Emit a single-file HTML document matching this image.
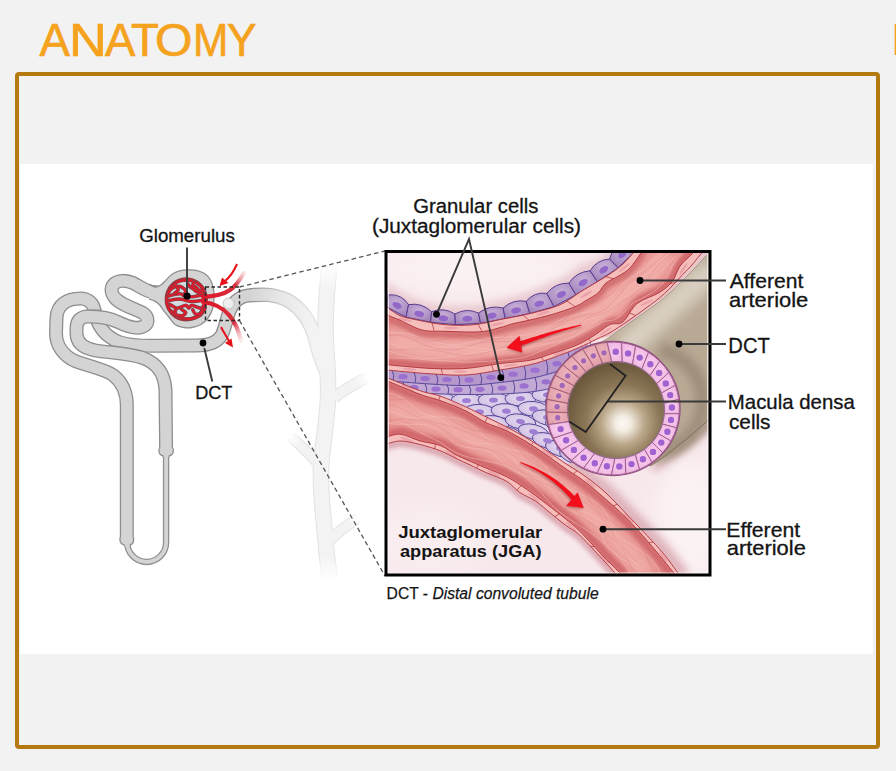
<!DOCTYPE html>
<html><head><meta charset="utf-8"><title>Anatomy</title>
<style>
html,body{margin:0;padding:0;width:896px;height:771px;overflow:hidden;background:#F2F2F2}
svg{position:absolute;left:0;top:0;display:block}
text{font-family:'Liberation Sans', sans-serif}
</style></head><body>
<svg width="896" height="771" viewBox="0 0 896 771">
<rect x="0" y="0" width="896" height="771" fill="#F2F2F2"/>
<g font-size="45.5" fill="#F5A31E" stroke="#F5A31E" stroke-width="0.7"><text transform="translate(39.5,55.9) scale(1.0018,1)">A</text><text transform="translate(69.1,55.9) scale(1.1448,1)">N</text><text transform="translate(105,55.9) scale(1.0018,1)">A</text><text transform="translate(131,55.9) scale(1.0018,1)">T</text><text transform="translate(155.1,55.9) scale(1.0574,1)">O</text><text transform="translate(193.0,55.9) scale(0.9339,1)">M</text><text transform="translate(226.9,55.9) scale(0.9710,1)">Y</text></g>
<rect x="894.6" y="24" width="1.4" height="31" fill="#F5A623"/>
<rect x="17" y="74" width="861" height="673" rx="2" fill="none" stroke="#B57912" stroke-width="4"/>
<rect x="20" y="164" width="853" height="490" fill="#FFFFFF"/>
<defs><mask id="fadeM" maskUnits="userSpaceOnUse" x="200" y="240" width="200" height="360"><rect x="200" y="240" width="200" height="360" fill="#fff"/><linearGradient id="fT" x1="0" y1="262" x2="0" y2="292" gradientUnits="userSpaceOnUse"><stop offset="0" stop-color="#000"/><stop offset="1" stop-color="#000" stop-opacity="0"/></linearGradient><rect x="300" y="240" width="60" height="52" fill="url(#fT)"/><linearGradient id="fB" x1="0" y1="582" x2="0" y2="555" gradientUnits="userSpaceOnUse"><stop offset="0" stop-color="#000"/><stop offset="1" stop-color="#000" stop-opacity="0"/></linearGradient><rect x="300" y="555" width="60" height="40" fill="url(#fB)"/><radialGradient id="fR" cx="0.5" cy="0.5" r="0.5"><stop offset="0" stop-color="#000"/><stop offset="1" stop-color="#000" stop-opacity="0"/></radialGradient><circle cx="368" cy="377" r="14" fill="url(#fR)"/><circle cx="289" cy="436" r="14" fill="url(#fR)"/><circle cx="360" cy="517" r="13" fill="url(#fR)"/></mask><linearGradient id="ctO" x1="250" y1="0" x2="312" y2="0" gradientUnits="userSpaceOnUse"><stop offset="0" stop-color="#8E8E8E"/><stop offset="0.45" stop-color="#C8C8C8"/><stop offset="1" stop-color="#E2E2E2"/></linearGradient><linearGradient id="ctF" x1="250" y1="0" x2="312" y2="0" gradientUnits="userSpaceOnUse"><stop offset="0" stop-color="#D4D4D4"/><stop offset="0.45" stop-color="#E6E6E6"/><stop offset="1" stop-color="#F3F3F3"/></linearGradient></defs>
<g mask="url(#fadeM)">
<path d="M329.5,262 C328,285 325,305 325.5,330 C326,355 329,375 328,398 C327,425 322,445 321,470 C320,495 324,520 326,545 C327,560 329,570 330,580" fill="none" stroke="#E2E2E2" stroke-width="16.5"/>
<path d="M334,398 C342,391 351,386 366,378" fill="none" stroke="#E2E2E2" stroke-width="12"/>
<path d="M320,466 C313,458 305,449 291,437" fill="none" stroke="#E2E2E2" stroke-width="11"/>
<path d="M330,540 C338,532 346,526 358,518" fill="none" stroke="#E2E2E2" stroke-width="11.5"/>
<path d="M250,295.3 C260,294.6 272,293 287,300 C302,308 311,322 316,342 C318,352 322,362 326,372" fill="none" stroke="url(#ctO)" stroke-width="14.5"/>
<path d="M329.5,262 C328,285 325,305 325.5,330 C326,355 329,375 328,398 C327,425 322,445 321,470 C320,495 324,520 326,545 C327,560 329,570 330,580" fill="none" stroke="#F3F3F3" stroke-width="14.5"/>
<path d="M334,398 C342,391 351,386 366,378" fill="none" stroke="#F3F3F3" stroke-width="10"/>
<path d="M320,466 C313,458 305,449 291,437" fill="none" stroke="#F3F3F3" stroke-width="9"/>
<path d="M330,540 C338,532 346,526 358,518" fill="none" stroke="#F3F3F3" stroke-width="9.5"/>
<path d="M250,295.3 C260,294.6 272,293 287,300 C302,308 311,322 316,342 C318,352 322,362 326,372" fill="none" stroke="url(#ctF)" stroke-width="12"/>
</g>
<path d="M126.8,539 L126.8,405 C126.8,392 122,382 113,375 C104,369 88,366 75,361 C64,356 56,346 56,333 L56.5,318 C57,305 67,298.5 80.5,298.5 C88,298.5 93,303 94.5,310 C96.5,324 104,336 119,342 C129,345.5 140,346 155,345.8 L197,345.5 C209,345.5 217,342.5 221.5,335.5 C225,329 226.5,319 229.5,311 C233,302.5 239,297.5 246,295.8 C247.5,295.5 249,295.3 251,295.3" fill="none" stroke="#8E8E8E" stroke-width="14" stroke-linecap="butt" stroke-linejoin="round"/><path d="M126.8,539 L126.8,405 C126.8,392 122,382 113,375 C104,369 88,366 75,361 C64,356 56,346 56,333 L56.5,318 C57,305 67,298.5 80.5,298.5 C88,298.5 93,303 94.5,310 C96.5,324 104,336 119,342 C129,345.5 140,346 155,345.8 L197,345.5 C209,345.5 217,342.5 221.5,335.5 C225,329 226.5,319 229.5,311 C233,302.5 239,297.5 246,295.8 C247.5,295.5 249,295.3 251,295.3" fill="none" stroke="#D4D4D4" stroke-width="11.4" stroke-linecap="butt" stroke-linejoin="round"/>
<defs><filter id="nb1" x="-50%" y="-50%" width="200%" height="200%"><feGaussianBlur stdDeviation="1"/></filter></defs>
<path d="M87,309.8 L101.5,310.6" stroke="#8A8A8A" stroke-width="2.6" filter="url(#nb1)" opacity="0.8"/>
<path d="M166,292.5 C160,292.5 156,292.3 151,291.6 C145,290.6 140,286.5 133,283 C126,280 118,280 114,284 C110,288 111,295 117,300 C124,306 136,309 143,313 C148,316 149,322 145,325.5 C139,330 128,327 118,322 C110,318 100,316.5 88,316.5 C80,316.5 76.5,321 76.5,329 L76.5,333 C76.5,342.5 83,348 95,350.3 C110,352.8 128,353 143,358 C156,363 164.5,372 165.5,390 L166.1,449.5" fill="none" stroke="#8E8E8E" stroke-width="14" stroke-linecap="butt" stroke-linejoin="round"/><path d="M166,292.5 C160,292.5 156,292.3 151,291.6 C145,290.6 140,286.5 133,283 C126,280 118,280 114,284 C110,288 111,295 117,300 C124,306 136,309 143,313 C148,316 149,322 145,325.5 C139,330 128,327 118,322 C110,318 100,316.5 88,316.5 C80,316.5 76.5,321 76.5,329 L76.5,333 C76.5,342.5 83,348 95,350.3 C110,352.8 128,353 143,358 C156,363 164.5,372 165.5,390 L166.1,449.5" fill="none" stroke="#D4D4D4" stroke-width="11.4" stroke-linecap="butt" stroke-linejoin="round"/>
<path d="M149.0,284.3 C150.1,284.8 153.6,286.9 155.6,287.0 C157.6,287.1 159.3,286.1 161.0,285.0 C162.7,283.9 164.0,282.1 165.7,280.4 C167.4,278.7 169.3,276.4 171.1,275.0 C172.9,273.6 174.6,272.7 176.6,271.9 C178.6,271.1 180.8,270.5 183.0,270.2 C185.2,269.9 187.5,269.7 190.0,269.8 C192.5,269.9 195.5,270.1 198.0,270.8 C200.5,271.5 202.9,272.3 205.0,273.8 C207.1,275.3 209.1,277.6 210.5,280.0 C211.9,282.4 212.7,285.0 213.3,288.0 C213.9,291.0 214.1,294.5 214.0,298.0 C213.9,301.5 213.5,305.7 212.5,309.0 C211.5,312.3 209.9,315.4 208.0,318.0 C206.1,320.6 203.7,322.9 201.0,324.5 C198.3,326.1 195.0,327.0 192.0,327.5 C189.0,328.0 185.8,327.8 183.0,327.3 C180.2,326.8 177.4,326.3 175.0,324.5 C172.6,322.7 170.4,318.9 168.5,316.5 C166.6,314.1 164.7,311.9 163.3,310.1 C161.9,308.3 161.5,306.9 160.2,305.5 C158.9,304.1 157.5,302.7 155.6,301.6 C153.7,300.5 150.1,299.3 149.0,298.9 Z" fill="#D4D4D4"/>
<path d="M149.0,284.3 C150.1,284.8 153.6,286.9 155.6,287.0 C157.6,287.1 159.3,286.1 161.0,285.0 C162.7,283.9 164.0,282.1 165.7,280.4 C167.4,278.7 169.3,276.4 171.1,275.0 C172.9,273.6 174.6,272.7 176.6,271.9 C178.6,271.1 180.8,270.5 183.0,270.2 C185.2,269.9 187.5,269.7 190.0,269.8 C192.5,269.9 195.5,270.1 198.0,270.8 C200.5,271.5 202.9,272.3 205.0,273.8 C207.1,275.3 209.1,277.6 210.5,280.0 C211.9,282.4 212.7,285.0 213.3,288.0 C213.9,291.0 214.1,294.5 214.0,298.0 C213.9,301.5 213.5,305.7 212.5,309.0 C211.5,312.3 209.9,315.4 208.0,318.0 C206.1,320.6 203.7,322.9 201.0,324.5 C198.3,326.1 195.0,327.0 192.0,327.5 C189.0,328.0 185.8,327.8 183.0,327.3 C180.2,326.8 177.4,326.3 175.0,324.5 C172.6,322.7 170.4,318.9 168.5,316.5 C166.6,314.1 164.7,311.9 163.3,310.1 C161.9,308.3 161.5,306.9 160.2,305.5 C158.9,304.1 157.5,302.7 155.6,301.6 C153.7,300.5 150.1,299.3 149.0,298.9" fill="none" stroke="#8E8E8E" stroke-width="1.3"/>
<path d="M166.1,455 L166.1,542.5 A19.45,19.45 0 0 1 127.2,542.5 L127.2,544" fill="none" stroke="#8E8E8E" stroke-width="6.4" stroke-linecap="butt" stroke-linejoin="round"/><path d="M166.1,455 L166.1,542.5 A19.45,19.45 0 0 1 127.2,542.5 L127.2,544" fill="none" stroke="#D4D4D4" stroke-width="3.9" stroke-linecap="butt" stroke-linejoin="round"/>
<path d="M159.0,448.5 L159.0,450.5 Q159.0,455.1 162.9,455.7 L162.9,457.0 L169.3,457.0 L169.3,455.7 Q173.3,455.1 173.3,450.5 L173.3,448.5 Z" fill="#D4D4D4"/>
<path d="M159.0,448.5 L159.0,450.5 Q159.0,455.1 162.9,455.7 L162.9,457.0 M173.3,448.5 L173.3,450.5 Q173.3,455.1 169.3,455.7 L169.3,457.0" stroke="#8E8E8E" stroke-width="1.3" fill="none"/>
<path d="M120.0,537.5 L120.0,539.5 Q120.0,544.1 124.0,544.7 L124.0,546.0 L130.4,546.0 L130.4,544.7 Q133.6,544.1 133.6,539.5 L133.6,537.5 Z" fill="#D4D4D4"/>
<path d="M120.0,537.5 L120.0,539.5 Q120.0,544.1 124.0,544.7 L124.0,546.0 M133.6,537.5 L133.6,539.5 Q133.6,544.1 130.4,544.7 L130.4,546.0" stroke="#8E8E8E" stroke-width="1.3" fill="none"/>
<g transform="translate(186.2,299.3) scale(1,0.97)">
<ellipse cx="0" cy="0" rx="19.6" ry="20.8" fill="#D2DCE0"/>
<ellipse cx="0" cy="0" rx="19.6" ry="20.8" fill="none" stroke="#74484E" stroke-width="4"/>
<ellipse cx="0" cy="0" rx="19.6" ry="20.8" fill="none" stroke="#DE1B2B" stroke-width="2.6"/>
<path d="M-16.1,-11.8 C-15.2,-12.7 -12.8,-16.0 -10.6,-17.3 C-8.4,-18.6 -5.8,-19.4 -2.9,-19.6 C-0.0,-19.9 3.6,-19.7 6.5,-18.8 C9.4,-17.9 12.4,-16.0 14.3,-14.2 C16.2,-12.4 17.6,-9.0 18.2,-8.0" fill="none" stroke="#74484E" stroke-width="3.6" stroke-linecap="round" stroke-linejoin="round"/>
<path d="M-16.1,-11.8 C-15.2,-12.7 -12.8,-16.0 -10.6,-17.3 C-8.4,-18.6 -5.8,-19.4 -2.9,-19.6 C-0.0,-19.9 3.6,-19.7 6.5,-18.8 C9.4,-17.9 12.4,-16.0 14.3,-14.2 C16.2,-12.4 17.6,-9.0 18.2,-8.0" fill="none" stroke="#DE1B2B" stroke-width="2.4" stroke-linecap="round" stroke-linejoin="round"/>
<path d="M-18.4,-5.6 C-17.8,-6.5 -16.4,-9.7 -14.5,-11.0 C-12.6,-12.3 -9.0,-13.8 -6.7,-13.4 C-4.4,-13.0 -1.1,-10.3 -0.5,-8.7 C0.1,-7.1 -2.6,-4.8 -3.0,-4.0" fill="none" stroke="#74484E" stroke-width="3.6" stroke-linecap="round" stroke-linejoin="round"/>
<path d="M-18.4,-5.6 C-17.8,-6.5 -16.4,-9.7 -14.5,-11.0 C-12.6,-12.3 -9.0,-13.8 -6.7,-13.4 C-4.4,-13.0 -1.1,-10.3 -0.5,-8.7 C0.1,-7.1 -2.6,-4.8 -3.0,-4.0" fill="none" stroke="#DE1B2B" stroke-width="2.4" stroke-linecap="round" stroke-linejoin="round"/>
<path d="M1.8,-15.7 C2.3,-15.0 3.7,-12.2 4.9,-11.8 C6.1,-11.4 7.5,-13.8 8.8,-13.4 C10.1,-13.0 11.3,-10.4 12.7,-9.5 C14.1,-8.6 16.6,-8.2 17.4,-8.0" fill="none" stroke="#74484E" stroke-width="3.6" stroke-linecap="round" stroke-linejoin="round"/>
<path d="M1.8,-15.7 C2.3,-15.0 3.7,-12.2 4.9,-11.8 C6.1,-11.4 7.5,-13.8 8.8,-13.4 C10.1,-13.0 11.3,-10.4 12.7,-9.5 C14.1,-8.6 16.6,-8.2 17.4,-8.0" fill="none" stroke="#DE1B2B" stroke-width="2.4" stroke-linecap="round" stroke-linejoin="round"/>
<path d="M-18.4,-3.3 C-16.4,-3.7 -10.6,-5.7 -6.7,-5.6 C-2.8,-5.5 0.9,-2.6 4.9,-2.5 C8.9,-2.4 14.8,-4.7 17.4,-4.8 C20.0,-4.9 20.0,-3.5 20.5,-3.3" fill="none" stroke="#74484E" stroke-width="3.6" stroke-linecap="round" stroke-linejoin="round"/>
<path d="M-18.4,-3.3 C-16.4,-3.7 -10.6,-5.7 -6.7,-5.6 C-2.8,-5.5 0.9,-2.6 4.9,-2.5 C8.9,-2.4 14.8,-4.7 17.4,-4.8 C20.0,-4.9 20.0,-3.5 20.5,-3.3" fill="none" stroke="#DE1B2B" stroke-width="2.4" stroke-linecap="round" stroke-linejoin="round"/>
<path d="M-17.6,1.4 C-15.8,1.1 -10.4,-0.3 -6.7,-0.2 C-3.0,-0.1 0.5,2.1 4.9,2.2 C9.3,2.3 17.2,0.9 19.7,0.6" fill="none" stroke="#74484E" stroke-width="3.6" stroke-linecap="round" stroke-linejoin="round"/>
<path d="M-17.6,1.4 C-15.8,1.1 -10.4,-0.3 -6.7,-0.2 C-3.0,-0.1 0.5,2.1 4.9,2.2 C9.3,2.3 17.2,0.9 19.7,0.6" fill="none" stroke="#DE1B2B" stroke-width="2.4" stroke-linecap="round" stroke-linejoin="round"/>
<path d="M-16.1,5.3 C-14.9,5.9 -11.7,9.1 -9.1,9.2 C-6.5,9.3 -2.5,6.1 -0.5,6.1 C1.4,6.1 1.6,9.2 2.6,9.2 C3.6,9.2 3.8,6.1 5.7,6.1 C7.7,6.1 12.2,9.3 14.3,9.2 C16.4,9.1 17.6,5.9 18.2,5.3" fill="none" stroke="#74484E" stroke-width="3.6" stroke-linecap="round" stroke-linejoin="round"/>
<path d="M-16.1,5.3 C-14.9,5.9 -11.7,9.1 -9.1,9.2 C-6.5,9.3 -2.5,6.1 -0.5,6.1 C1.4,6.1 1.6,9.2 2.6,9.2 C3.6,9.2 3.8,6.1 5.7,6.1 C7.7,6.1 12.2,9.3 14.3,9.2 C16.4,9.1 17.6,5.9 18.2,5.3" fill="none" stroke="#DE1B2B" stroke-width="2.4" stroke-linecap="round" stroke-linejoin="round"/>
<path d="M-14.5,12.3 C-13.2,13.3 -9.9,17.2 -6.7,18.5 C-3.5,19.8 1.4,20.5 4.9,20.1 C8.4,19.7 12.0,18.0 14.3,16.2 C16.6,14.4 18.1,10.4 18.9,9.2" fill="none" stroke="#74484E" stroke-width="3.6" stroke-linecap="round" stroke-linejoin="round"/>
<path d="M-14.5,12.3 C-13.2,13.3 -9.9,17.2 -6.7,18.5 C-3.5,19.8 1.4,20.5 4.9,20.1 C8.4,19.7 12.0,18.0 14.3,16.2 C16.6,14.4 18.1,10.4 18.9,9.2" fill="none" stroke="#DE1B2B" stroke-width="2.4" stroke-linecap="round" stroke-linejoin="round"/>
<path d="M-10.6,10.7 C-10.6,11.5 -11.6,14.3 -10.6,15.4 C-9.6,16.4 -6.1,17.3 -4.4,17.0 C-2.7,16.7 -0.5,14.9 -0.5,13.8 C-0.5,12.8 -3.8,11.2 -4.4,10.7" fill="none" stroke="#74484E" stroke-width="3.6" stroke-linecap="round" stroke-linejoin="round"/>
<path d="M-10.6,10.7 C-10.6,11.5 -11.6,14.3 -10.6,15.4 C-9.6,16.4 -6.1,17.3 -4.4,17.0 C-2.7,16.7 -0.5,14.9 -0.5,13.8 C-0.5,12.8 -3.8,11.2 -4.4,10.7" fill="none" stroke="#DE1B2B" stroke-width="2.4" stroke-linecap="round" stroke-linejoin="round"/>
<path d="M6.5,10.7 C7.0,11.5 8.0,14.9 9.6,15.4 C11.2,15.9 14.8,14.8 15.8,13.8 C16.8,12.8 15.8,10.0 15.8,9.2" fill="none" stroke="#74484E" stroke-width="3.6" stroke-linecap="round" stroke-linejoin="round"/>
<path d="M6.5,10.7 C7.0,11.5 8.0,14.9 9.6,15.4 C11.2,15.9 14.8,14.8 15.8,13.8 C16.8,12.8 15.8,10.0 15.8,9.2" fill="none" stroke="#DE1B2B" stroke-width="2.4" stroke-linecap="round" stroke-linejoin="round"/>
<path d="M-12.0,-16.0 C-11.3,-15.0 -8.0,-11.7 -8.0,-10.0 C-8.0,-8.3 -11.3,-6.7 -12.0,-6.0" fill="none" stroke="#74484E" stroke-width="3.6" stroke-linecap="round" stroke-linejoin="round"/>
<path d="M-12.0,-16.0 C-11.3,-15.0 -8.0,-11.7 -8.0,-10.0 C-8.0,-8.3 -11.3,-6.7 -12.0,-6.0" fill="none" stroke="#DE1B2B" stroke-width="2.4" stroke-linecap="round" stroke-linejoin="round"/>
<path d="M8.0,-18.0 C7.7,-17.2 5.7,-14.7 6.0,-13.0 C6.3,-11.3 8.3,-9.2 10.0,-8.0 C11.7,-6.8 15.0,-6.3 16.0,-6.0" fill="none" stroke="#74484E" stroke-width="3.6" stroke-linecap="round" stroke-linejoin="round"/>
<path d="M8.0,-18.0 C7.7,-17.2 5.7,-14.7 6.0,-13.0 C6.3,-11.3 8.3,-9.2 10.0,-8.0 C11.7,-6.8 15.0,-6.3 16.0,-6.0" fill="none" stroke="#DE1B2B" stroke-width="2.4" stroke-linecap="round" stroke-linejoin="round"/>
</g>
<defs><linearGradient id="affG" x1="205" y1="296" x2="244" y2="268" gradientUnits="userSpaceOnUse"><stop offset="0" stop-color="#DD1A2A"/><stop offset="0.65" stop-color="#D8303F"/><stop offset="1" stop-color="#F6C8CC" stop-opacity="0.3"/></linearGradient><linearGradient id="effG" x1="205" y1="302" x2="241" y2="342" gradientUnits="userSpaceOnUse"><stop offset="0" stop-color="#DD1A2A"/><stop offset="0.65" stop-color="#D8303F"/><stop offset="1" stop-color="#F6C8CC" stop-opacity="0.3"/></linearGradient></defs>
<path d="M203,297 C212,296.5 222,295.5 230,290 C236,286 240,280 244,273" fill="none" stroke="url(#affG)" stroke-width="4.2" stroke-linecap="round"/>
<path d="M203,302 C212,303 222,307 229,315 C235,322 239,331 241,341" fill="none" stroke="url(#effG)" stroke-width="4.2" stroke-linecap="round"/>
<circle cx="228.5" cy="303.5" r="5.5" fill="#EEEEEE" stroke="#B8B8B8" stroke-width="0.8"/>
<path d="M237,264 C234,271 230,277 225,281" fill="none" stroke="#E8101A" stroke-width="2"/>
<path d="M219.5,286 L222,277.5 L228.5,283 Z" fill="#E8101A"/>
<path d="M221,327 C224,333 227,337 229,341" fill="none" stroke="#E8101A" stroke-width="2"/>
<path d="M233,347.5 L225,343 L231.5,338.5 Z" fill="#E8101A"/>
<rect x="205.5" y="287" width="34" height="33.5" fill="none" stroke="#2a2a2a" stroke-width="1.4" stroke-dasharray="3.5,2.5"/>
<path d="M239.5,287 L385,251 M239.5,320.5 L385,576" fill="none" stroke="#555" stroke-width="1.3" stroke-dasharray="4.5,3.2"/>
<defs>
<clipPath id="ic"><rect x="387.5" y="253" width="321" height="321"/></clipPath>
<filter id="b1" x="-20%" y="-20%" width="140%" height="140%"><feGaussianBlur stdDeviation="0.8"/></filter>
<filter id="b2" x="-20%" y="-20%" width="140%" height="140%"><feGaussianBlur stdDeviation="2"/></filter>
<filter id="b4" x="-30%" y="-30%" width="160%" height="160%"><feGaussianBlur stdDeviation="4"/></filter>
<filter id="b7" x="-30%" y="-30%" width="160%" height="160%"><feGaussianBlur stdDeviation="7"/></filter>
<filter id="b10" x="-50%" y="-50%" width="200%" height="200%"><feGaussianBlur stdDeviation="10"/></filter>
<radialGradient id="cellP" cx="0.5" cy="0.35" r="0.7"><stop offset="0" stop-color="#C8B0D7"/><stop offset="0.6" stop-color="#B195C6"/><stop offset="1" stop-color="#9E81B6"/></radialGradient>
<radialGradient id="cellM" cx="0.5" cy="0.5" r="0.6"><stop offset="0" stop-color="#F9D0EE"/><stop offset="1" stop-color="#EFB3E0"/></radialGradient>
<radialGradient id="cellS" cx="0.5" cy="0.4" r="0.7"><stop offset="0" stop-color="#EDB4BC"/><stop offset="1" stop-color="#DE9AA6"/></radialGradient>
<radialGradient id="lum" cx="623" cy="421" r="58" fx="623" fy="424" gradientUnits="userSpaceOnUse"><stop offset="0" stop-color="#FDFBF6"/><stop offset="0.14" stop-color="#F1EADF"/><stop offset="0.38" stop-color="#B9A587"/><stop offset="0.65" stop-color="#8A7556"/><stop offset="1" stop-color="#6C583C"/></radialGradient>
<radialGradient id="cellL" cx="0.5" cy="0.45" r="0.6"><stop offset="0" stop-color="#E6DCF0"/><stop offset="1" stop-color="#CEBDE2"/></radialGradient>
</defs>
<g clip-path="url(#ic)">
<rect x="386" y="251" width="324" height="325" fill="#F7E8EB"/>
<ellipse cx="475" cy="268" rx="100" ry="26" fill="#FAF1F3" filter="url(#b10)"/>
<path d="M384.0,286.5 C385.0,287.5 386.8,290.3 390.0,292.5 C393.2,294.7 398.3,297.4 403.4,299.9 C408.5,302.3 414.0,305.3 420.8,307.2 C427.6,309.1 435.3,310.8 444.0,311.5 C452.7,312.2 464.3,312.2 473.0,311.5 C481.7,310.8 488.6,308.9 496.3,307.2 C504.1,305.5 511.8,303.8 519.5,301.4 C527.2,299.0 535.0,295.8 542.7,292.6 C550.4,289.5 558.4,286.5 565.9,282.5 C573.4,278.5 582.1,271.6 587.8,268.8 C593.5,266.1 596.4,268.1 600.0,266.0 C603.6,263.9 606.8,258.4 609.7,256.3 C612.6,254.2 613.6,254.1 617.5,253.5 C621.4,252.9 628.4,253.1 633.0,252.5 C637.6,251.9 643.0,250.4 645.0,250.0" fill="none" stroke="#E6C3CA" stroke-width="10" filter="url(#b4)"/>
<ellipse cx="430" cy="540" rx="60" ry="35" fill="#F9EDEF" filter="url(#b10)"/>
<path d="M384.0,445.0 C386.7,444.3 394.0,441.1 400.0,441.0 C406.0,440.9 413.3,442.9 420.0,444.5 C426.7,446.1 434.2,448.5 440.0,450.7 C445.8,452.9 450.7,455.8 455.0,457.9 C459.3,459.9 460.8,460.6 466.0,463.0 C471.2,465.4 479.3,469.6 486.0,472.6 C492.7,475.6 500.3,477.7 506.0,481.0 C511.7,484.3 515.1,489.2 520.0,492.6 C524.9,496.0 530.4,497.6 535.6,501.1 C540.8,504.6 545.8,509.5 551.0,513.6 C556.2,517.8 561.9,522.4 566.7,526.0 C571.5,529.6 574.0,529.9 580.0,535.5 C586.0,541.1 597.0,553.4 602.8,559.6 C608.6,565.9 612.4,570.1 614.8,573.0 C617.2,575.9 616.6,576.3 617.0,577.0" fill="none" stroke="#DCA8B2" stroke-width="7" filter="url(#b2)" transform="translate(0,2.5)"/>
<ellipse cx="690" cy="520" rx="35" ry="60" fill="#FBF2F3" filter="url(#b10)"/>
<path d="M384.0,376.5 C390.0,378.9 410.7,387.4 420.0,390.7 C429.3,393.9 432.3,393.3 440.0,396.0 C447.7,398.7 458.3,403.5 466.0,407.0 C473.7,410.5 479.3,413.6 486.0,416.9 C492.7,420.2 499.3,423.2 506.0,426.6 C512.7,430.1 519.3,433.7 526.0,437.6 C532.7,441.5 539.3,445.8 546.0,450.2 C552.7,454.6 559.3,459.4 566.0,463.8 C572.7,468.2 579.3,471.9 586.0,476.8 C592.7,481.7 599.2,486.8 606.0,493.0 C612.8,499.2 619.7,506.9 626.5,514.0 C633.3,521.1 640.9,529.0 647.0,535.5 C653.1,542.0 657.8,546.8 663.0,553.0 C668.2,559.2 675.0,569.0 678.0,573.0 C681.0,577.0 680.5,576.3 681.0,577.0" fill="none" stroke="#DDAEB7" stroke-width="12" filter="url(#b4)" transform="translate(3,-1)"/>
<path d="M650.0,466.0 C651.2,465.3 654.3,463.5 657.0,461.7 C659.7,459.9 662.3,458.0 666.0,455.2 C669.7,452.4 674.7,448.3 679.0,444.9 C683.3,441.4 687.0,438.7 692.0,434.5 C697.0,430.3 705.3,422.7 709.0,419.6 C712.7,416.5 713.2,416.6 714.0,416.0" fill="none" stroke="#E2BCC3" stroke-width="8" filter="url(#b4)" transform="translate(2,3)"/>
<polygon points="570.0,360.0 610.0,336.3 637.0,317.2 664.5,297.2 690.0,272.7 707.5,253.8 712.0,249.0 712.0,249.0 712.0,416.0 714.0,416.0 709.0,419.6 692.0,434.5 679.0,444.9 666.0,455.2 657.0,461.7 650.0,466.0 600.0,470.0 555.0,420.0" fill="#B8A994"/>
<path d="M622,350 L714,268" stroke="#DAD1C3" stroke-width="24" filter="url(#b7)"/>
<path d="M704,285 L704,415" stroke="#D2C8BA" stroke-width="12" filter="url(#b4)"/>
<path d="M660,350 A52,52 0 0 1 662,452" fill="none" stroke="#9E8E7A" stroke-width="14" filter="url(#b4)"/>
<path d="M655,462 L716,420" stroke="#A39380" stroke-width="8" filter="url(#b4)"/>
<path d="M610.0,336.3 C614.5,333.1 627.9,323.7 637.0,317.2 C646.1,310.7 655.7,304.6 664.5,297.2 C673.3,289.8 682.8,279.9 690.0,272.7 C697.2,265.5 703.8,257.7 707.5,253.8 C711.2,249.8 711.2,249.8 712.0,249.0" fill="none" stroke="#857460" stroke-width="1"/>
<path d="M650.0,466.0 C651.2,465.3 654.3,463.5 657.0,461.7 C659.7,459.9 662.3,458.0 666.0,455.2 C669.7,452.4 674.7,448.3 679.0,444.9 C683.3,441.4 687.0,438.7 692.0,434.5 C697.0,430.3 705.3,422.7 709.0,419.6 C712.7,416.5 713.2,416.6 714.0,416.0" fill="none" stroke="#7E6C58" stroke-width="1"/>
<path d="M597.0,339.0 C599.2,337.9 604.8,335.7 610.0,332.7 C615.2,329.7 622.0,325.0 628.0,320.9 C634.0,316.8 639.9,312.7 646.0,308.1 C652.1,303.6 658.4,299.2 664.5,293.6 C670.6,288.0 678.3,279.1 682.7,274.5 C687.1,269.9 688.1,269.2 691.0,266.0 C693.9,262.8 697.7,257.7 700.0,255.0 C702.3,252.3 704.2,250.8 705.0,250.0 L712.0,249.0 C711.2,249.8 711.2,249.8 707.5,253.8 C703.8,257.7 697.2,265.5 690.0,272.7 C682.8,279.9 673.3,289.8 664.5,297.2 C655.7,304.6 646.1,310.7 637.0,317.2 C627.9,323.7 614.5,333.1 610.0,336.3 Z" fill="#E8C6CA"/>
<path d="M384.0,289.0 C385.0,290.0 386.8,292.8 390.0,295.0 C393.2,297.2 398.3,299.9 403.4,302.4 C408.5,304.8 414.0,307.8 420.8,309.7 C427.6,311.6 435.3,313.3 444.0,314.0 C452.7,314.7 464.3,314.7 473.0,314.0 C481.7,313.3 488.6,311.4 496.3,309.7 C504.1,308.0 511.8,306.3 519.5,303.9 C527.2,301.5 535.0,298.2 542.7,295.1 C550.4,292.0 558.4,289.0 565.9,285.0 C573.4,281.0 582.1,274.1 587.8,271.3 C593.5,268.6 596.4,270.6 600.0,268.5 C603.6,266.4 606.8,260.9 609.7,258.8 C612.6,256.7 613.6,256.6 617.5,256.0 C621.4,255.4 628.4,255.6 633.0,255.0 C637.6,254.4 643.0,252.9 645.0,252.5 L636.0,250.0 C635.5,250.5 635.0,250.9 633.0,253.1 C631.0,255.3 626.8,260.4 623.8,263.3 C620.8,266.2 618.2,268.1 615.2,270.3 C612.2,272.5 609.1,274.5 605.8,276.6 C602.5,278.7 599.9,280.2 595.6,282.8 C591.3,285.4 585.9,288.5 580.0,292.2 C574.1,295.9 568.2,301.3 560.0,304.8 C551.8,308.3 540.7,311.0 531.0,313.4 C521.3,315.8 511.7,317.3 502.0,319.2 C492.3,321.1 482.7,323.9 473.0,324.8 C463.3,325.7 453.7,325.5 444.0,324.6 C434.3,323.7 422.3,321.0 415.0,319.5 C407.7,318.0 404.2,317.4 400.0,315.7 C395.8,314.0 392.7,311.2 390.0,309.5 C387.3,307.8 385.0,306.2 384.0,305.5 Z" fill="#AE90C3"/>
<path d="M384.0,305.5 L389.7,294.7 Q401.9,294.3 408.6,304.6 L406.0,317.2 Z" fill="url(#cellP)" stroke="#5A3C90" stroke-width="1"/>
<ellipse cx="397.1" cy="305.5" rx="5" ry="3" transform="rotate(28.1 397.1 305.5)" fill="#9468C8"/>
<path d="M406.0,317.2 L408.6,304.6 Q421.9,302.4 431.6,311.7 L430.6,322.2 Z" fill="url(#cellP)" stroke="#5A3C90" stroke-width="1"/>
<ellipse cx="419.2" cy="313.9" rx="5" ry="3" transform="rotate(11.5 419.2 313.9)" fill="#9468C8"/>
<path d="M430.6,322.2 L431.6,311.7 Q443.9,306.9 454.9,314.0 L455.5,324.7 Z" fill="url(#cellP)" stroke="#5A3C90" stroke-width="1"/>
<ellipse cx="443.2" cy="318.2" rx="5" ry="3" transform="rotate(5.6 443.2 318.2)" fill="#9468C8"/>
<path d="M455.5,324.7 L454.9,314.0 Q466.5,307.5 478.5,313.0 L480.5,323.3 Z" fill="url(#cellP)" stroke="#5A3C90" stroke-width="1"/>
<ellipse cx="467.4" cy="318.8" rx="5" ry="3" transform="rotate(-3.0 467.4 318.8)" fill="#9468C8"/>
<path d="M480.5,323.3 L478.5,313.0 Q489.6,304.6 503.1,308.0 L505.2,318.6 Z" fill="url(#cellP)" stroke="#5A3C90" stroke-width="1"/>
<ellipse cx="491.8" cy="315.7" rx="5" ry="3" transform="rotate(-11.0 491.8 315.7)" fill="#9468C8"/>
<path d="M505.2,318.6 L503.1,308.0 Q513.0,298.9 526.2,301.3 L529.8,313.6 Z" fill="url(#cellP)" stroke="#5A3C90" stroke-width="1"/>
<ellipse cx="516.1" cy="310.4" rx="5" ry="3" transform="rotate(-11.3 516.1 310.4)" fill="#9468C8"/>
<path d="M529.8,313.6 L526.2,301.3 Q534.3,291.7 546.8,293.3 L554.0,306.6 Z" fill="url(#cellP)" stroke="#5A3C90" stroke-width="1"/>
<ellipse cx="539.2" cy="303.7" rx="5" ry="3" transform="rotate(-16.3 539.2 303.7)" fill="#9468C8"/>
<path d="M554.0,306.6 L546.8,293.3 Q555.3,282.8 568.9,283.1 L575.9,294.8 Z" fill="url(#cellP)" stroke="#5A3C90" stroke-width="1"/>
<ellipse cx="561.4" cy="294.5" rx="5" ry="3" transform="rotate(-28.3 561.4 294.5)" fill="#9468C8"/>
<path d="M575.9,294.8 L568.9,283.1 Q576.5,271.8 590.1,270.8 L597.4,281.7 Z" fill="url(#cellP)" stroke="#5A3C90" stroke-width="1"/>
<ellipse cx="583.1" cy="282.6" rx="5" ry="3" transform="rotate(-31.3 583.1 282.6)" fill="#9468C8"/>
<path d="M597.4,281.7 L590.1,270.8 Q596.7,259.8 609.5,259.0 L618.3,267.8 Z" fill="url(#cellP)" stroke="#5A3C90" stroke-width="1"/>
<ellipse cx="603.8" cy="269.8" rx="5" ry="3" transform="rotate(-33.7 603.8 269.8)" fill="#9468C8"/>
<path d="M618.3,267.8 L609.5,259.0 Q613.3,245.6 626.1,240.1 L636.0,250.0 Z" fill="url(#cellP)" stroke="#5A3C90" stroke-width="1"/>
<ellipse cx="622.5" cy="254.2" rx="5" ry="3" transform="rotate(-45.1 622.5 254.2)" fill="#9468C8"/>
<clipPath id="lacis"><path d="M384.0,369.7 C391.7,370.4 416.3,372.9 430.0,373.8 C443.7,374.6 454.3,375.6 466.0,375.0 C477.7,374.4 489.3,371.7 500.0,370.0 C510.7,368.3 521.3,366.7 530.0,364.7 C538.7,362.7 544.0,360.8 552.0,358.0 C560.0,355.2 573.7,349.7 578.0,348.0 L588,350 L578,462 L566.0,463.8 C562.7,461.5 552.7,454.6 546.0,450.2 C539.3,445.8 532.7,441.5 526.0,437.6 C519.3,433.7 512.7,430.1 506.0,426.6 C499.3,423.2 492.7,420.2 486.0,416.9 C479.3,413.6 473.7,410.5 466.0,407.0 C458.3,403.5 447.7,398.7 440.0,396.0 C432.3,393.3 429.3,393.9 420.0,390.7 C410.7,387.4 390.0,378.9 384.0,376.5 Z"/></clipPath>
<path d="M384.0,369.7 C391.7,370.4 416.3,372.9 430.0,373.8 C443.7,374.6 454.3,375.6 466.0,375.0 C477.7,374.4 489.3,371.7 500.0,370.0 C510.7,368.3 521.3,366.7 530.0,364.7 C538.7,362.7 544.0,360.8 552.0,358.0 C560.0,355.2 573.7,349.7 578.0,348.0 L588,350 L578,462 L566.0,463.8 C562.7,461.5 552.7,454.6 546.0,450.2 C539.3,445.8 532.7,441.5 526.0,437.6 C519.3,433.7 512.7,430.1 506.0,426.6 C499.3,423.2 492.7,420.2 486.0,416.9 C479.3,413.6 473.7,410.5 466.0,407.0 C458.3,403.5 447.7,398.7 440.0,396.0 C432.3,393.3 429.3,393.9 420.0,390.7 C410.7,387.4 390.0,378.9 384.0,376.5 Z" fill="#E4D8EE"/>
<g clip-path="url(#lacis)">
<g fill="url(#cellL)" stroke="#4E4094" stroke-width="0.9"><ellipse cx="385.5" cy="397.1" rx="15.5" ry="7.4" transform="rotate(0.0 385.5 397.1)"/><ellipse cx="412.5" cy="398.5" rx="15.5" ry="7.4" transform="rotate(0.0 412.5 398.5)"/><ellipse cx="439.5" cy="399.8" rx="15.5" ry="7.4" transform="rotate(0.0 439.5 399.8)"/><ellipse cx="466.5" cy="400.5" rx="15.5" ry="7.4" transform="rotate(0.0 466.5 400.5)"/><ellipse cx="493.5" cy="400.1" rx="15.5" ry="7.4" transform="rotate(0.0 493.5 400.1)"/><ellipse cx="520.5" cy="398.6" rx="15.5" ry="7.4" transform="rotate(0.0 520.5 398.6)"/><ellipse cx="547.5" cy="394.8" rx="15.5" ry="7.4" transform="rotate(0.0 547.5 394.8)"/><ellipse cx="574.5" cy="387.1" rx="15.5" ry="7.4" transform="rotate(0.0 574.5 387.1)"/><ellipse cx="601.5" cy="376.0" rx="15.5" ry="7.4" transform="rotate(0.0 601.5 376.0)"/><ellipse cx="398.5" cy="409.3" rx="15.5" ry="7.4" transform="rotate(0.0 398.5 409.3)"/><ellipse cx="425.5" cy="410.8" rx="15.5" ry="7.4" transform="rotate(0.3 425.5 410.8)"/><ellipse cx="452.5" cy="411.6" rx="15.5" ry="7.4" transform="rotate(1.6 452.5 411.6)"/><ellipse cx="479.5" cy="411.8" rx="15.5" ry="7.4" transform="rotate(2.9 479.5 411.8)"/><ellipse cx="506.5" cy="411.1" rx="15.5" ry="7.4" transform="rotate(4.2 506.5 411.1)"/><ellipse cx="533.5" cy="408.9" rx="15.5" ry="7.4" transform="rotate(5.4 533.5 408.9)"/><ellipse cx="560.5" cy="402.9" rx="15.5" ry="7.4" transform="rotate(6.7 560.5 402.9)"/><ellipse cx="587.5" cy="393.2" rx="15.5" ry="7.4" transform="rotate(8.0 587.5 393.2)"/><ellipse cx="385.5" cy="420.1" rx="15.5" ry="7.4" transform="rotate(0.0 385.5 420.1)"/><ellipse cx="412.5" cy="421.5" rx="15.5" ry="7.4" transform="rotate(0.0 412.5 421.5)"/><ellipse cx="439.5" cy="422.8" rx="15.5" ry="7.4" transform="rotate(1.9 439.5 422.8)"/><ellipse cx="466.5" cy="423.5" rx="15.5" ry="7.4" transform="rotate(4.5 466.5 423.5)"/><ellipse cx="493.5" cy="423.1" rx="15.5" ry="7.4" transform="rotate(7.1 493.5 423.1)"/><ellipse cx="520.5" cy="421.6" rx="15.5" ry="7.4" transform="rotate(9.6 520.5 421.6)"/><ellipse cx="547.5" cy="417.8" rx="15.5" ry="7.4" transform="rotate(12.2 547.5 417.8)"/><ellipse cx="574.5" cy="410.1" rx="15.5" ry="7.4" transform="rotate(14.8 574.5 410.1)"/><ellipse cx="601.5" cy="399.0" rx="15.5" ry="7.4" transform="rotate(17.4 601.5 399.0)"/><ellipse cx="398.5" cy="432.3" rx="15.5" ry="7.4" transform="rotate(0.0 398.5 432.3)"/><ellipse cx="425.5" cy="433.8" rx="15.5" ry="7.4" transform="rotate(0.7 425.5 433.8)"/><ellipse cx="452.5" cy="434.6" rx="15.5" ry="7.4" transform="rotate(3.9 452.5 434.6)"/><ellipse cx="479.5" cy="434.8" rx="15.5" ry="7.4" transform="rotate(7.1 479.5 434.8)"/><ellipse cx="506.5" cy="434.1" rx="15.5" ry="7.4" transform="rotate(10.4 506.5 434.1)"/><ellipse cx="533.5" cy="431.9" rx="15.5" ry="7.4" transform="rotate(13.6 533.5 431.9)"/><ellipse cx="560.5" cy="425.9" rx="15.5" ry="7.4" transform="rotate(16.9 560.5 425.9)"/><ellipse cx="587.5" cy="416.2" rx="15.5" ry="7.4" transform="rotate(20.1 587.5 416.2)"/><ellipse cx="385.5" cy="443.1" rx="15.5" ry="7.4" transform="rotate(0.0 385.5 443.1)"/><ellipse cx="412.5" cy="444.5" rx="15.5" ry="7.4" transform="rotate(0.0 412.5 444.5)"/><ellipse cx="439.5" cy="445.8" rx="15.5" ry="7.4" transform="rotate(2.3 439.5 445.8)"/><ellipse cx="466.5" cy="446.5" rx="15.5" ry="7.4" transform="rotate(5.6 466.5 446.5)"/><ellipse cx="493.5" cy="446.1" rx="15.5" ry="7.4" transform="rotate(8.8 493.5 446.1)"/><ellipse cx="520.5" cy="444.6" rx="15.5" ry="7.4" transform="rotate(12.1 520.5 444.6)"/><ellipse cx="547.5" cy="440.8" rx="15.5" ry="7.4" transform="rotate(15.3 547.5 440.8)"/><ellipse cx="574.5" cy="433.1" rx="15.5" ry="7.4" transform="rotate(18.5 574.5 433.1)"/><ellipse cx="601.5" cy="422.0" rx="15.5" ry="7.4" transform="rotate(21.8 601.5 422.0)"/><ellipse cx="398.5" cy="455.3" rx="15.5" ry="7.4" transform="rotate(0.0 398.5 455.3)"/><ellipse cx="425.5" cy="456.8" rx="15.5" ry="7.4" transform="rotate(0.7 425.5 456.8)"/><ellipse cx="452.5" cy="457.6" rx="15.5" ry="7.4" transform="rotate(3.9 452.5 457.6)"/><ellipse cx="479.5" cy="457.8" rx="15.5" ry="7.4" transform="rotate(7.1 479.5 457.8)"/><ellipse cx="506.5" cy="457.1" rx="15.5" ry="7.4" transform="rotate(10.4 506.5 457.1)"/><ellipse cx="533.5" cy="454.9" rx="15.5" ry="7.4" transform="rotate(13.6 533.5 454.9)"/><ellipse cx="560.5" cy="448.9" rx="15.5" ry="7.4" transform="rotate(16.9 560.5 448.9)"/><ellipse cx="587.5" cy="439.2" rx="15.5" ry="7.4" transform="rotate(20.1 587.5 439.2)"/><ellipse cx="385.5" cy="466.1" rx="15.5" ry="7.4" transform="rotate(0.0 385.5 466.1)"/><ellipse cx="412.5" cy="467.5" rx="15.5" ry="7.4" transform="rotate(0.0 412.5 467.5)"/><ellipse cx="439.5" cy="468.8" rx="15.5" ry="7.4" transform="rotate(2.3 439.5 468.8)"/><ellipse cx="466.5" cy="469.5" rx="15.5" ry="7.4" transform="rotate(5.6 466.5 469.5)"/><ellipse cx="493.5" cy="469.1" rx="15.5" ry="7.4" transform="rotate(8.8 493.5 469.1)"/><ellipse cx="520.5" cy="467.6" rx="15.5" ry="7.4" transform="rotate(12.1 520.5 467.6)"/><ellipse cx="547.5" cy="463.8" rx="15.5" ry="7.4" transform="rotate(15.3 547.5 463.8)"/><ellipse cx="574.5" cy="456.1" rx="15.5" ry="7.4" transform="rotate(18.5 574.5 456.1)"/><ellipse cx="601.5" cy="445.0" rx="15.5" ry="7.4" transform="rotate(21.8 601.5 445.0)"/></g>
<g fill="#A07ED4"><ellipse cx="385.5" cy="397.1" rx="4.5" ry="2.6" transform="rotate(0.0 385.5 397.1)"/><ellipse cx="412.5" cy="398.5" rx="4.5" ry="2.6" transform="rotate(0.0 412.5 398.5)"/><ellipse cx="439.5" cy="399.8" rx="4.5" ry="2.6" transform="rotate(0.0 439.5 399.8)"/><ellipse cx="466.5" cy="400.5" rx="4.5" ry="2.6" transform="rotate(0.0 466.5 400.5)"/><ellipse cx="493.5" cy="400.1" rx="4.5" ry="2.6" transform="rotate(0.0 493.5 400.1)"/><ellipse cx="520.5" cy="398.6" rx="4.5" ry="2.6" transform="rotate(0.0 520.5 398.6)"/><ellipse cx="547.5" cy="394.8" rx="4.5" ry="2.6" transform="rotate(0.0 547.5 394.8)"/><ellipse cx="574.5" cy="387.1" rx="4.5" ry="2.6" transform="rotate(0.0 574.5 387.1)"/><ellipse cx="601.5" cy="376.0" rx="4.5" ry="2.6" transform="rotate(0.0 601.5 376.0)"/><ellipse cx="398.5" cy="409.3" rx="4.5" ry="2.6" transform="rotate(0.0 398.5 409.3)"/><ellipse cx="425.5" cy="410.8" rx="4.5" ry="2.6" transform="rotate(0.3 425.5 410.8)"/><ellipse cx="452.5" cy="411.6" rx="4.5" ry="2.6" transform="rotate(1.6 452.5 411.6)"/><ellipse cx="479.5" cy="411.8" rx="4.5" ry="2.6" transform="rotate(2.9 479.5 411.8)"/><ellipse cx="506.5" cy="411.1" rx="4.5" ry="2.6" transform="rotate(4.2 506.5 411.1)"/><ellipse cx="533.5" cy="408.9" rx="4.5" ry="2.6" transform="rotate(5.4 533.5 408.9)"/><ellipse cx="560.5" cy="402.9" rx="4.5" ry="2.6" transform="rotate(6.7 560.5 402.9)"/><ellipse cx="587.5" cy="393.2" rx="4.5" ry="2.6" transform="rotate(8.0 587.5 393.2)"/><ellipse cx="385.5" cy="420.1" rx="4.5" ry="2.6" transform="rotate(0.0 385.5 420.1)"/><ellipse cx="412.5" cy="421.5" rx="4.5" ry="2.6" transform="rotate(0.0 412.5 421.5)"/><ellipse cx="439.5" cy="422.8" rx="4.5" ry="2.6" transform="rotate(1.9 439.5 422.8)"/><ellipse cx="466.5" cy="423.5" rx="4.5" ry="2.6" transform="rotate(4.5 466.5 423.5)"/><ellipse cx="493.5" cy="423.1" rx="4.5" ry="2.6" transform="rotate(7.1 493.5 423.1)"/><ellipse cx="520.5" cy="421.6" rx="4.5" ry="2.6" transform="rotate(9.6 520.5 421.6)"/><ellipse cx="547.5" cy="417.8" rx="4.5" ry="2.6" transform="rotate(12.2 547.5 417.8)"/><ellipse cx="574.5" cy="410.1" rx="4.5" ry="2.6" transform="rotate(14.8 574.5 410.1)"/><ellipse cx="601.5" cy="399.0" rx="4.5" ry="2.6" transform="rotate(17.4 601.5 399.0)"/><ellipse cx="398.5" cy="432.3" rx="4.5" ry="2.6" transform="rotate(0.0 398.5 432.3)"/><ellipse cx="425.5" cy="433.8" rx="4.5" ry="2.6" transform="rotate(0.7 425.5 433.8)"/><ellipse cx="452.5" cy="434.6" rx="4.5" ry="2.6" transform="rotate(3.9 452.5 434.6)"/><ellipse cx="479.5" cy="434.8" rx="4.5" ry="2.6" transform="rotate(7.1 479.5 434.8)"/><ellipse cx="506.5" cy="434.1" rx="4.5" ry="2.6" transform="rotate(10.4 506.5 434.1)"/><ellipse cx="533.5" cy="431.9" rx="4.5" ry="2.6" transform="rotate(13.6 533.5 431.9)"/><ellipse cx="560.5" cy="425.9" rx="4.5" ry="2.6" transform="rotate(16.9 560.5 425.9)"/><ellipse cx="587.5" cy="416.2" rx="4.5" ry="2.6" transform="rotate(20.1 587.5 416.2)"/><ellipse cx="385.5" cy="443.1" rx="4.5" ry="2.6" transform="rotate(0.0 385.5 443.1)"/><ellipse cx="412.5" cy="444.5" rx="4.5" ry="2.6" transform="rotate(0.0 412.5 444.5)"/><ellipse cx="439.5" cy="445.8" rx="4.5" ry="2.6" transform="rotate(2.3 439.5 445.8)"/><ellipse cx="466.5" cy="446.5" rx="4.5" ry="2.6" transform="rotate(5.6 466.5 446.5)"/><ellipse cx="493.5" cy="446.1" rx="4.5" ry="2.6" transform="rotate(8.8 493.5 446.1)"/><ellipse cx="520.5" cy="444.6" rx="4.5" ry="2.6" transform="rotate(12.1 520.5 444.6)"/><ellipse cx="547.5" cy="440.8" rx="4.5" ry="2.6" transform="rotate(15.3 547.5 440.8)"/><ellipse cx="574.5" cy="433.1" rx="4.5" ry="2.6" transform="rotate(18.5 574.5 433.1)"/><ellipse cx="601.5" cy="422.0" rx="4.5" ry="2.6" transform="rotate(21.8 601.5 422.0)"/><ellipse cx="398.5" cy="455.3" rx="4.5" ry="2.6" transform="rotate(0.0 398.5 455.3)"/><ellipse cx="425.5" cy="456.8" rx="4.5" ry="2.6" transform="rotate(0.7 425.5 456.8)"/><ellipse cx="452.5" cy="457.6" rx="4.5" ry="2.6" transform="rotate(3.9 452.5 457.6)"/><ellipse cx="479.5" cy="457.8" rx="4.5" ry="2.6" transform="rotate(7.1 479.5 457.8)"/><ellipse cx="506.5" cy="457.1" rx="4.5" ry="2.6" transform="rotate(10.4 506.5 457.1)"/><ellipse cx="533.5" cy="454.9" rx="4.5" ry="2.6" transform="rotate(13.6 533.5 454.9)"/><ellipse cx="560.5" cy="448.9" rx="4.5" ry="2.6" transform="rotate(16.9 560.5 448.9)"/><ellipse cx="587.5" cy="439.2" rx="4.5" ry="2.6" transform="rotate(20.1 587.5 439.2)"/><ellipse cx="385.5" cy="466.1" rx="4.5" ry="2.6" transform="rotate(0.0 385.5 466.1)"/><ellipse cx="412.5" cy="467.5" rx="4.5" ry="2.6" transform="rotate(0.0 412.5 467.5)"/><ellipse cx="439.5" cy="468.8" rx="4.5" ry="2.6" transform="rotate(2.3 439.5 468.8)"/><ellipse cx="466.5" cy="469.5" rx="4.5" ry="2.6" transform="rotate(5.6 466.5 469.5)"/><ellipse cx="493.5" cy="469.1" rx="4.5" ry="2.6" transform="rotate(8.8 493.5 469.1)"/><ellipse cx="520.5" cy="467.6" rx="4.5" ry="2.6" transform="rotate(12.1 520.5 467.6)"/><ellipse cx="547.5" cy="463.8" rx="4.5" ry="2.6" transform="rotate(15.3 547.5 463.8)"/><ellipse cx="574.5" cy="456.1" rx="4.5" ry="2.6" transform="rotate(18.5 574.5 456.1)"/><ellipse cx="601.5" cy="445.0" rx="4.5" ry="2.6" transform="rotate(21.8 601.5 445.0)"/></g>
</g>
<path d="M384.0,369.7 C391.7,370.4 416.3,372.9 430.0,373.8 C443.7,374.6 454.3,375.6 466.0,375.0 C477.7,374.4 489.3,371.7 500.0,370.0 C510.7,368.3 521.3,366.7 530.0,364.7 C538.7,362.7 544.0,360.8 552.0,358.0 C560.0,355.2 572.0,350.3 578.0,348.0 C584.0,345.7 586.3,344.7 588.0,344.0 L588.0,372.0 C586.3,373.3 584.0,377.3 578.0,380.0 C572.0,382.7 560.0,386.0 552.0,388.0 C544.0,390.0 538.7,391.0 530.0,392.0 C521.3,393.0 510.7,393.6 500.0,394.0 C489.3,394.4 477.7,394.6 466.0,394.5 C454.3,394.4 443.7,394.1 430.0,393.5 C416.3,392.9 391.7,391.4 384.0,391.0 Z" fill="#C2A9D6"/>
<path d="M384.0,369.7 C391.7,370.4 416.3,372.9 430.0,373.8 C443.7,374.6 454.3,375.6 466.0,375.0 C477.7,374.4 489.3,371.7 500.0,370.0 C510.7,368.3 521.3,366.7 530.0,364.7 C538.7,362.7 544.0,360.8 552.0,358.0 C560.0,355.2 572.0,350.3 578.0,348.0 C584.0,345.7 586.3,344.7 588.0,344.0 L588.0,359.0 C586.3,359.8 584.0,361.7 578.0,364.0 C572.0,366.3 560.0,370.6 552.0,373.0 C544.0,375.4 538.7,376.9 530.0,378.5 C521.3,380.1 510.7,381.3 500.0,382.5 C489.3,383.7 477.7,385.2 466.0,385.5 C454.3,385.8 443.7,384.8 430.0,384.0 C416.3,383.2 391.7,381.1 384.0,380.5 Z" fill="#B698CD"/>
<path d="M384.0,380.5 C391.7,381.1 416.3,383.2 430.0,384.0 C443.7,384.8 454.3,385.8 466.0,385.5 C477.7,385.2 489.3,383.7 500.0,382.5 C510.7,381.3 521.3,380.1 530.0,378.5 C538.7,376.9 544.0,375.4 552.0,373.0 C560.0,370.6 570.0,367.2 578.0,364.0 C586.0,360.8 596.3,355.7 600.0,354.0 M384.0,391.0 C391.7,391.4 416.3,392.9 430.0,393.5 C443.7,394.1 454.3,394.4 466.0,394.5 C477.7,394.6 489.3,394.4 500.0,394.0 C510.7,393.6 521.3,393.0 530.0,392.0 C538.7,391.0 544.0,390.0 552.0,388.0 C560.0,386.0 570.0,383.0 578.0,380.0 C586.0,377.0 596.3,371.7 600.0,370.0" fill="none" stroke="#4E4094" stroke-width="0.9"/>
<path d="M392,370.4 Q395,375.8 393,381.1 M403,381.9 Q406,387.0 404,392.0 M414,372.3 Q417,377.6 415,382.8 M425,383.6 Q428,388.4 426,393.2 M436,374.0 Q439,379.1 437,384.2 M447,384.7 Q450,389.3 448,394.0 M458,374.7 Q461,379.9 459,385.2 M469,385.2 Q472,389.8 470,394.5 M480,372.9 Q483,378.6 481,384.3 M491,383.3 Q494,388.7 492,394.1 M502,369.6 Q505,375.9 503,382.2 M513,380.8 Q516,386.9 514,393.1 M524,365.8 Q527,372.5 525,379.3 M535,377.2 Q538,384.2 536,391.1 M546,359.8 Q549,367.2 547,374.5 M557,371.3 Q560,378.9 558,386.5 M568,351.8 Q571,359.7 569,367.5 M579,363.5 Q582,371.5 580,379.5 M590,342.3 Q593,350.4 591,358.5 M601,354.0 Q604,362.0 602,370.0" fill="none" stroke="#4E4094" stroke-width="0.9"/>
<g fill="#9C70CF"><ellipse cx="403" cy="376.7" rx="4.6" ry="2.6"/><ellipse cx="414" cy="387.7" rx="4.6" ry="2.6"/><ellipse cx="425" cy="378.5" rx="4.6" ry="2.6"/><ellipse cx="436" cy="389.0" rx="4.6" ry="2.6"/><ellipse cx="447" cy="379.5" rx="4.6" ry="2.6"/><ellipse cx="458" cy="389.7" rx="4.6" ry="2.6"/><ellipse cx="469" cy="379.9" rx="4.6" ry="2.6"/><ellipse cx="480" cy="389.3" rx="4.6" ry="2.6"/><ellipse cx="491" cy="377.3" rx="4.6" ry="2.6"/><ellipse cx="502" cy="388.1" rx="4.6" ry="2.6"/><ellipse cx="513" cy="374.2" rx="4.6" ry="2.6"/><ellipse cx="524" cy="385.9" rx="4.6" ry="2.6"/><ellipse cx="535" cy="370.2" rx="4.6" ry="2.6"/><ellipse cx="546" cy="381.8" rx="4.6" ry="2.6"/><ellipse cx="557" cy="363.7" rx="4.6" ry="2.6"/><ellipse cx="568" cy="375.3" rx="4.6" ry="2.6"/><ellipse cx="579" cy="355.5" rx="4.6" ry="2.6"/><ellipse cx="590" cy="366.5" rx="4.6" ry="2.6"/><ellipse cx="601" cy="346.5" rx="4.6" ry="2.6"/><ellipse cx="612" cy="362.0" rx="4.6" ry="2.6"/></g>
<path d="M384.0,312.5 C385.0,313.1 387.3,314.7 390.0,316.0 C392.7,317.3 394.7,317.9 400.0,320.2 C405.3,322.5 414.5,328.1 422.0,330.0 C429.5,331.9 435.3,331.0 445.0,331.3 C454.7,331.6 470.8,332.4 480.0,331.8 C489.2,331.2 494.5,329.0 500.0,327.6 C505.5,326.2 508.0,325.0 513.0,323.7 C518.0,322.4 523.5,321.5 530.0,320.0 C536.5,318.5 544.5,316.7 552.0,314.5 C559.5,312.3 569.3,309.0 575.0,306.7 C580.7,304.4 582.2,302.8 586.0,300.5 C589.8,298.2 594.7,295.9 598.0,293.0 C601.3,290.1 602.5,285.9 606.0,283.0 C609.5,280.1 615.0,278.3 619.0,275.8 C623.0,273.3 626.3,271.8 630.0,268.0 C633.7,264.2 638.7,256.1 641.0,253.1 C643.3,250.1 643.5,250.5 644.0,250.0 L696.0,250.0 C695.2,250.8 693.7,252.3 691.0,255.0 C688.3,257.7 683.2,261.8 680.0,266.2 C676.8,270.7 675.5,277.4 672.0,281.8 C668.5,286.2 664.8,289.1 659.0,292.7 C653.2,296.3 643.0,298.8 637.0,303.6 C631.0,308.5 627.5,318.3 623.0,321.8 C618.5,325.3 614.3,322.6 610.0,324.5 C605.7,326.4 602.3,330.1 597.0,333.5 C591.7,336.9 585.5,341.2 578.0,344.6 C570.5,348.0 560.0,351.0 552.0,353.6 C544.0,356.2 538.7,358.7 530.0,360.3 C521.3,361.9 510.7,362.1 500.0,363.5 C489.3,364.9 477.7,367.6 466.0,368.4 C454.3,369.2 443.7,369.1 430.0,368.4 C416.3,367.7 391.7,365.1 384.0,364.4 Z" fill="#E38886"/>
<path d="M384.0,338.4 C385.7,338.9 390.9,340.4 394.5,341.3 C398.0,342.2 401.6,343.0 405.1,343.8 C408.7,344.6 412.2,345.5 415.7,346.3 C419.3,347.2 422.7,348.3 426.3,348.8 C429.9,349.3 433.7,349.3 437.3,349.4 C441.0,349.6 444.7,349.7 448.4,349.7 C452.1,349.7 455.8,349.8 459.4,349.7 C463.1,349.5 466.8,349.1 470.4,348.9 C474.1,348.6 477.8,348.3 481.5,348.1 C485.1,347.8 488.8,347.8 492.5,347.4 C496.1,347.0 499.8,346.3 503.4,345.7 C507.1,345.2 510.7,344.9 514.3,344.1 C517.9,343.3 521.4,342.0 525.0,340.9 C528.5,339.9 532.1,338.9 535.6,337.9 C539.1,336.9 542.7,335.9 546.2,334.9 C549.8,333.8 553.4,332.9 556.8,331.7 C560.3,330.5 563.6,329.1 567.0,327.6 C570.4,326.2 573.7,324.7 577.0,323.1 C580.3,321.6 583.4,319.5 586.8,318.1 C590.1,316.6 593.9,316.1 597.1,314.5 C600.3,312.9 603.2,310.8 606.1,308.6 C608.9,306.4 611.2,303.5 614.0,301.2 C616.8,298.9 619.8,296.9 622.7,294.7 C625.6,292.6 628.5,290.4 631.5,288.3 C634.5,286.3 637.8,284.5 640.7,282.4 C643.6,280.2 646.5,277.9 649.0,275.3 C651.4,272.6 653.2,269.5 655.5,266.6 C657.8,263.8 660.1,260.9 662.5,258.1 C665.0,255.4 668.8,251.4 670.0,250.0" fill="none" stroke="#F2AFAB" stroke-width="24" filter="url(#b7)"/>
<path d="M384.0,312.5 C385.0,313.1 387.3,314.7 390.0,316.0 C392.7,317.3 394.7,317.9 400.0,320.2 C405.3,322.5 414.5,328.1 422.0,330.0 C429.5,331.9 435.3,331.0 445.0,331.3 C454.7,331.6 470.8,332.4 480.0,331.8 C489.2,331.2 494.5,329.0 500.0,327.6 C505.5,326.2 508.0,325.0 513.0,323.7 C518.0,322.4 523.5,321.5 530.0,320.0 C536.5,318.5 544.5,316.7 552.0,314.5 C559.5,312.3 569.3,309.0 575.0,306.7 C580.7,304.4 582.2,302.8 586.0,300.5 C589.8,298.2 594.7,295.9 598.0,293.0 C601.3,290.1 602.5,285.9 606.0,283.0 C609.5,280.1 615.0,278.3 619.0,275.8 C623.0,273.3 626.3,271.8 630.0,268.0 C633.7,264.2 638.7,256.1 641.0,253.1 C643.3,250.1 643.5,250.5 644.0,250.0" fill="none" stroke="#D06A6C" stroke-width="6" filter="url(#b2)" transform="translate(0,3)"/>
<path d="M384.0,364.4 C391.7,365.1 416.3,367.7 430.0,368.4 C443.7,369.1 454.3,369.2 466.0,368.4 C477.7,367.6 489.3,364.9 500.0,363.5 C510.7,362.1 521.3,361.9 530.0,360.3 C538.7,358.7 544.0,356.2 552.0,353.6 C560.0,351.0 570.5,348.0 578.0,344.6 C585.5,341.2 591.7,336.9 597.0,333.5 C602.3,330.1 605.7,326.4 610.0,324.5 C614.3,322.6 618.5,325.3 623.0,321.8 C627.5,318.3 631.0,308.5 637.0,303.6 C643.0,298.8 653.2,296.3 659.0,292.7 C664.8,289.1 668.5,286.2 672.0,281.8 C675.5,277.4 676.8,270.7 680.0,266.2 C683.2,261.8 688.3,257.7 691.0,255.0 C693.7,252.3 695.2,250.8 696.0,250.0" fill="none" stroke="#CD6468" stroke-width="6" filter="url(#b2)" transform="translate(0,-3)"/>
<path d="M384.0,331.2 C385.2,331.4 388.8,332.2 391.3,332.4 C393.7,332.6 396.2,332.5 398.6,332.6 C401.1,332.8 403.4,332.9 405.8,333.3 C408.2,333.6 410.6,334.2 413.0,334.9 C415.4,335.7 417.8,336.8 420.4,337.7 C422.9,338.7 425.5,339.8 428.3,340.5 C431.0,341.3 433.9,341.8 436.8,342.4 C439.6,343.0 442.5,343.7 445.3,344.1 C448.1,344.5 450.9,344.9 453.6,344.9 C456.3,345.0 458.9,344.6 461.4,344.2 C463.9,343.9 466.3,343.3 468.7,342.7 C471.0,342.2 473.3,341.5 475.6,341.0 C477.9,340.5 480.2,340.0 482.6,339.6 C484.9,339.1 487.3,338.7 489.9,338.3 C492.5,337.9 495.1,337.5 497.9,337.3 C500.7,337.1 503.6,337.1 506.5,337.0 C509.5,336.8 512.5,336.6 515.5,336.3 C518.4,335.9 521.4,335.5 524.2,335.1 C527.0,334.6 529.8,334.2 532.4,333.5 C535.0,332.8 537.4,332.0 539.7,331.0 C541.9,330.1 544.0,329.0 546.1,327.9 C548.1,326.8 550.0,325.6 552.0,324.5 C554.0,323.4 555.9,322.2 558.1,321.1 C560.2,320.1 562.5,319.1 564.9,318.2 C567.3,317.2 569.9,316.3 572.6,315.5 C575.3,314.6 578.2,313.7 581.2,313.0 C584.1,312.3 587.5,312.1 590.4,311.2 C593.3,310.4 596.0,309.1 598.4,307.7 C600.9,306.3 603.0,304.5 604.9,302.8 C606.9,301.1 608.6,299.3 610.3,297.6 C612.0,295.9 613.6,294.3 614.9,292.5 C616.3,290.7 617.2,288.5 618.7,286.8 C620.1,285.1 621.9,283.8 623.8,282.4 C625.7,281.0 627.8,279.7 630.0,278.2 C632.1,276.7 634.5,275.2 636.8,273.5 C639.2,271.8 641.7,270.2 644.1,268.3 C646.4,266.3 648.5,264.1 650.7,262.0 C653.0,259.9 655.3,257.9 657.3,255.9 C659.4,253.9 662.1,251.0 663.1,250.0 M384.0,340.4 C385.3,341.0 389.2,343.1 391.9,344.2 C394.6,345.2 397.4,345.9 400.1,346.6 C402.8,347.2 405.5,347.6 408.1,348.0 C410.8,348.3 413.4,348.5 416.0,348.6 C418.5,348.8 421.0,348.9 423.5,348.9 C426.0,348.8 428.5,348.6 431.0,348.3 C433.5,348.0 436.1,347.4 438.6,347.1 C441.2,346.8 443.8,346.6 446.4,346.6 C449.0,346.5 451.7,346.7 454.5,346.7 C457.2,346.8 460.1,346.8 462.9,347.0 C465.8,347.2 468.8,347.5 471.8,347.7 C474.8,348.0 477.9,348.3 480.9,348.6 C484.0,348.8 487.1,349.1 490.1,349.2 C493.1,349.3 496.2,349.4 499.1,349.2 C502.0,349.0 504.8,348.7 507.5,348.2 C510.2,347.8 512.9,347.4 515.4,346.6 C517.9,345.8 520.2,344.6 522.4,343.4 C524.7,342.3 526.8,340.9 529.0,339.7 C531.2,338.5 533.3,337.3 535.5,336.3 C537.7,335.2 539.9,334.1 542.2,333.1 C544.6,332.2 547.0,331.3 549.5,330.5 C552.1,329.7 554.8,329.1 557.5,328.3 C560.3,327.5 563.1,326.8 566.0,326.0 C568.9,325.2 572.0,324.5 575.0,323.6 C578.0,322.7 581.0,321.7 584.0,320.7 C586.9,319.7 589.8,318.4 592.7,317.5 C595.6,316.7 598.9,316.7 601.5,315.6 C604.1,314.6 606.3,313.0 608.2,311.2 C610.1,309.5 611.6,307.2 613.2,305.2 C614.7,303.2 616.0,301.0 617.5,299.2 C619.1,297.3 620.8,295.9 622.4,294.2 C623.9,292.5 625.1,290.4 626.8,288.8 C628.5,287.2 630.5,285.9 632.6,284.4 C634.6,282.9 636.8,281.4 639.0,279.8 C641.2,278.2 643.5,276.5 645.7,274.6 C647.9,272.8 650.2,270.8 652.4,268.7 C654.7,266.7 656.9,264.3 659.3,262.2 C661.6,260.1 664.3,258.1 666.7,256.0 C669.1,254.0 672.7,251.0 673.9,250.0 M384.0,349.4 C385.4,349.8 389.5,351.4 392.3,352.2 C395.1,353.1 398.0,353.8 400.9,354.4 C403.7,355.1 406.6,355.7 409.4,356.2 C412.2,356.7 415.1,357.1 417.9,357.5 C420.7,357.9 423.5,358.3 426.3,358.5 C429.1,358.6 431.8,358.5 434.6,358.4 C437.3,358.2 440.1,357.8 442.8,357.5 C445.6,357.2 448.3,356.9 450.9,356.6 C453.6,356.3 456.3,356.1 458.9,355.6 C461.6,355.2 464.2,354.5 466.8,354.0 C469.5,353.4 472.1,352.9 474.8,352.5 C477.5,352.1 480.1,351.7 482.9,351.4 C485.6,351.0 488.3,350.8 491.1,350.6 C493.9,350.3 496.8,350.1 499.7,349.9 C502.5,349.7 505.4,349.4 508.4,349.2 C511.4,349.1 514.4,349.1 517.4,348.8 C520.4,348.5 523.4,348.0 526.5,347.5 C529.5,347.0 532.5,346.5 535.6,346.0 C538.6,345.4 541.7,345.0 544.7,344.4 C547.7,343.8 550.7,343.2 553.7,342.5 C556.6,341.8 559.6,341.1 562.4,340.2 C565.2,339.4 568.1,338.5 570.7,337.4 C573.3,336.3 575.8,334.8 578.2,333.4 C580.6,332.0 583.0,330.6 585.3,329.1 C587.6,327.6 589.7,325.9 591.8,324.3 C593.9,322.8 595.9,320.8 598.1,319.6 C600.3,318.4 603.0,318.3 605.1,317.0 C607.2,315.8 609.0,314.0 610.7,312.1 C612.5,310.3 613.9,307.9 615.6,305.9 C617.2,303.8 618.8,301.6 620.8,299.9 C622.7,298.1 625.2,296.9 627.4,295.3 C629.6,293.8 631.8,292.1 634.2,290.6 C636.6,289.2 639.4,288.0 642.0,286.5 C644.5,285.0 647.2,283.5 649.7,281.7 C652.2,280.0 654.6,278.1 656.8,276.0 C659.0,274.0 660.9,271.6 662.9,269.3 C665.0,267.0 667.1,264.7 669.3,262.5 C671.5,260.3 674.0,258.3 676.3,256.2 C678.6,254.1 682.1,251.0 683.2,250.0 M384.0,358.0 C385.4,358.0 389.8,358.0 392.6,358.0 C395.5,358.0 398.4,358.0 401.2,358.0 C404.1,358.1 406.9,358.1 409.7,358.3 C412.6,358.4 415.4,358.6 418.2,358.8 C421.0,359.1 423.8,359.5 426.7,359.8 C429.5,360.0 432.4,360.1 435.3,360.3 C438.2,360.4 441.1,360.5 444.1,360.7 C447.1,360.9 450.1,361.1 453.1,361.4 C456.1,361.6 459.2,362.1 462.2,362.2 C465.3,362.3 468.3,362.1 471.4,362.1 C474.5,362.0 477.5,361.9 480.6,361.7 C483.7,361.6 486.8,361.4 489.8,361.2 C492.9,361.0 495.9,360.8 498.9,360.5 C501.9,360.2 504.9,360.0 507.9,359.7 C510.8,359.4 513.7,359.0 516.6,358.6 C519.5,358.1 522.4,357.9 525.1,357.2 C527.9,356.5 530.5,355.3 533.1,354.3 C535.7,353.3 538.3,352.1 540.8,351.0 C543.4,349.9 545.9,348.9 548.5,347.8 C551.0,346.7 553.5,345.5 556.1,344.4 C558.6,343.3 561.2,342.3 563.8,341.2 C566.4,340.2 569.0,339.2 571.6,338.0 C574.1,336.8 576.6,335.3 579.2,334.0 C581.8,332.7 584.5,331.5 587.2,330.1 C589.8,328.8 592.5,327.3 595.2,325.9 C597.9,324.5 600.5,322.7 603.4,321.7 C606.4,320.7 610.0,321.1 612.9,320.1 C615.8,319.1 618.4,317.6 620.8,315.7 C623.1,313.9 625.1,311.4 627.2,309.2 C629.3,307.0 631.1,304.4 633.4,302.6 C635.8,300.8 638.9,299.9 641.6,298.6 C644.2,297.2 646.8,295.8 649.2,294.4 C651.7,292.9 654.1,291.4 656.3,289.7 C658.5,288.0 660.6,286.0 662.4,284.0 C664.1,281.9 665.7,279.7 667.0,277.3 C668.3,274.9 669.1,272.1 670.3,269.7 C671.5,267.3 672.9,264.9 674.4,262.6 C675.9,260.4 677.7,258.4 679.5,256.3 C681.3,254.1 684.1,251.0 685.0,250.0" fill="none" stroke="#F6C0BC" stroke-width="0.8" opacity="0.7"/>
<path d="M384.0,324.2 C385.1,324.2 388.5,324.0 390.8,324.0 C393.1,324.1 395.5,324.0 397.8,324.5 C400.2,325.1 402.5,326.1 404.9,327.4 C407.3,328.7 409.8,330.5 412.4,332.2 C415.0,333.9 417.6,336.0 420.3,337.5 C423.0,338.9 425.7,340.3 428.4,340.9 C431.1,341.5 433.8,341.4 436.3,341.2 C438.8,341.1 441.1,340.4 443.4,339.9 C445.7,339.3 447.8,338.4 450.0,337.7 C452.2,337.0 454.3,336.1 456.6,335.8 C459.0,335.4 461.4,335.3 464.1,335.5 C466.8,335.7 469.7,336.3 472.7,336.8 C475.6,337.4 478.9,338.3 481.9,338.8 C485.0,339.3 488.2,339.7 491.0,339.7 C493.9,339.6 496.6,339.2 499.1,338.6 C501.5,338.0 503.7,337.1 505.7,336.0 C507.7,334.9 509.3,333.2 511.2,331.9 C513.0,330.5 514.6,328.9 516.7,327.9 C518.8,326.9 521.0,326.2 523.6,325.7 C526.2,325.2 529.2,325.1 532.3,325.0 C535.3,324.8 538.8,325.0 542.0,324.9 C545.3,324.7 548.7,324.7 551.7,324.3 C554.6,323.8 557.4,323.1 559.8,322.2 C562.1,321.2 564.1,320.0 565.9,318.7 C567.7,317.4 568.9,315.8 570.5,314.5 C572.1,313.1 573.4,311.8 575.2,310.6 C577.0,309.5 579.1,308.7 581.4,307.7 C583.7,306.6 586.3,305.5 589.0,304.3 C591.8,303.2 594.9,302.0 597.8,300.8 C600.8,299.5 603.9,298.2 606.5,296.8 C609.2,295.4 611.8,293.9 613.7,292.2 C615.7,290.6 616.9,288.4 618.3,286.7 C619.7,285.0 620.9,283.6 622.1,282.0 C623.3,280.5 624.2,279.0 625.5,277.4 C626.8,275.9 628.2,274.2 630.0,272.6 C631.8,271.0 634.3,269.7 636.6,267.9 C638.9,266.1 641.3,263.8 643.9,261.8 C646.4,259.8 649.4,257.8 651.9,255.8 C654.4,253.8 657.7,251.0 658.9,250.0 M384.0,335.3 C385.2,335.2 388.9,335.2 391.4,335.2 C393.9,335.2 396.4,335.1 398.9,335.4 C401.4,335.7 403.9,336.2 406.4,337.0 C408.9,337.7 411.5,338.8 414.1,340.0 C416.7,341.1 419.4,342.7 422.1,343.8 C424.9,345.0 427.7,346.3 430.6,347.1 C433.5,348.0 436.5,348.5 439.4,348.9 C442.3,349.4 445.1,349.8 447.9,349.9 C450.7,350.0 453.4,350.0 455.9,349.6 C458.5,349.3 461.0,348.5 463.4,347.8 C465.8,347.1 468.1,346.2 470.4,345.5 C472.7,344.8 475.0,344.1 477.4,343.5 C479.8,343.0 482.2,342.7 484.7,342.4 C487.3,342.1 490.0,341.9 492.8,341.7 C495.6,341.6 498.5,341.5 501.6,341.5 C504.6,341.5 507.8,341.8 511.0,341.8 C514.1,341.7 517.3,341.5 520.3,341.2 C523.3,340.9 526.3,340.3 529.1,339.7 C531.9,339.1 534.6,338.5 537.0,337.6 C539.5,336.7 541.7,335.6 543.9,334.5 C546.0,333.4 548.0,332.1 550.0,330.8 C552.0,329.6 553.8,328.3 555.8,327.1 C557.8,325.9 559.7,324.6 561.9,323.5 C564.1,322.3 566.5,321.4 569.0,320.4 C571.5,319.4 574.3,318.5 577.1,317.6 C580.0,316.7 583.0,315.6 586.2,314.9 C589.3,314.3 593.0,314.3 596.0,313.5 C599.0,312.6 601.9,311.3 604.3,309.8 C606.8,308.3 608.8,306.3 610.8,304.5 C612.7,302.7 614.3,300.6 615.9,298.8 C617.6,297.0 619.3,295.6 620.7,293.8 C622.1,292.1 623.0,289.9 624.4,288.2 C625.8,286.5 627.5,285.2 629.2,283.6 C631.0,282.1 633.0,280.7 635.0,279.1 C637.1,277.5 639.3,275.9 641.6,274.1 C643.9,272.3 646.4,270.5 648.8,268.5 C651.2,266.5 653.5,264.2 656.0,262.1 C658.4,260.0 661.1,258.0 663.5,256.0 C665.9,254.0 669.1,251.0 670.2,250.0 M384.0,347.7 C385.4,348.0 389.5,349.3 392.2,349.7 C394.9,350.0 397.7,349.9 400.4,349.9 C403.1,349.8 405.7,349.4 408.3,349.2 C410.9,349.1 413.4,348.7 416.0,348.7 C418.5,348.7 421.0,348.9 423.6,349.1 C426.2,349.3 428.8,349.6 431.6,349.9 C434.4,350.2 437.3,350.6 440.2,351.1 C443.2,351.6 446.3,352.4 449.3,353.1 C452.4,353.7 455.6,354.7 458.7,355.1 C461.8,355.6 464.9,355.7 467.8,355.7 C470.8,355.7 473.7,355.4 476.4,355.1 C479.1,354.7 481.8,354.0 484.3,353.4 C486.8,352.7 489.2,351.9 491.5,351.1 C493.9,350.3 496.1,349.4 498.5,348.6 C500.9,347.7 503.2,346.8 505.7,346.2 C508.3,345.6 510.9,345.2 513.7,344.7 C516.5,344.3 519.4,343.8 522.4,343.4 C525.5,343.0 528.7,342.8 532.0,342.5 C535.2,342.3 538.6,342.2 541.8,341.8 C545.0,341.5 548.2,341.1 551.2,340.4 C554.2,339.8 557.0,339.1 559.6,338.1 C562.2,337.1 564.5,336.0 566.6,334.6 C568.8,333.2 570.5,331.4 572.4,329.9 C574.3,328.3 576.0,326.7 577.9,325.1 C579.8,323.6 581.6,322.0 583.7,320.6 C585.8,319.2 588.0,317.7 590.7,316.7 C593.3,315.8 596.7,315.8 599.6,314.9 C602.6,314.0 605.6,312.7 608.4,311.3 C611.2,309.8 613.8,307.9 616.4,306.1 C619.0,304.3 621.3,302.2 623.8,300.5 C626.3,298.9 629.1,297.8 631.4,296.2 C633.6,294.7 635.4,293.0 637.3,291.4 C639.1,289.8 640.7,288.3 642.2,286.5 C643.7,284.8 645.0,283.0 646.3,281.1 C647.7,279.2 648.9,277.2 650.3,275.2 C651.8,273.2 653.2,271.0 654.9,268.9 C656.7,266.7 658.6,264.4 660.9,262.3 C663.2,260.1 666.0,258.1 668.7,256.1 C671.4,254.0 675.7,251.0 677.2,250.0" fill="none" stroke="#C8666C" stroke-width="0.6" opacity="0.35"/>
<path d="M384.0,305.5 C385.0,306.2 387.3,307.8 390.0,309.5 C392.7,311.2 395.8,314.0 400.0,315.7 C404.2,317.4 407.7,318.0 415.0,319.5 C422.3,321.0 434.3,323.7 444.0,324.6 C453.7,325.5 463.3,325.7 473.0,324.8 C482.7,323.9 492.3,321.1 502.0,319.2 C511.7,317.3 521.3,315.8 531.0,313.4 C540.7,311.0 551.8,308.3 560.0,304.8 C568.2,301.3 574.1,295.9 580.0,292.2 C585.9,288.5 591.3,285.4 595.6,282.8 C599.9,280.2 602.5,278.7 605.8,276.6 C609.1,274.5 612.2,272.5 615.2,270.3 C618.2,268.1 620.8,266.2 623.8,263.3 C626.8,260.4 631.0,255.3 633.0,253.1 C635.0,250.9 635.5,250.5 636.0,250.0 L644.0,250.0 C643.5,250.5 643.3,250.1 641.0,253.1 C638.7,256.1 633.7,264.2 630.0,268.0 C626.3,271.8 623.0,273.3 619.0,275.8 C615.0,278.3 609.5,280.1 606.0,283.0 C602.5,285.9 601.3,290.1 598.0,293.0 C594.7,295.9 589.8,298.2 586.0,300.5 C582.2,302.8 580.7,304.4 575.0,306.7 C569.3,309.0 559.5,312.3 552.0,314.5 C544.5,316.7 536.5,318.5 530.0,320.0 C523.5,321.5 518.0,322.4 513.0,323.7 C508.0,325.0 505.5,326.2 500.0,327.6 C494.5,329.0 489.2,331.2 480.0,331.8 C470.8,332.4 454.7,331.6 445.0,331.3 C435.3,331.0 429.5,331.9 422.0,330.0 C414.5,328.1 405.3,322.5 400.0,320.2 C394.7,317.9 392.7,317.3 390.0,316.0 C387.3,314.7 385.0,313.1 384.0,312.5 Z" fill="#F5BEBB"/>
<ellipse cx="404.8" cy="319.7" rx="7" ry="1.3" transform="rotate(14.2 404.8 319.7)" fill="#E99AA2" opacity="0.8"/>
<ellipse cx="450.8" cy="328.0" rx="7" ry="1.3" transform="rotate(0.4 450.8 328.0)" fill="#E99AA2" opacity="0.8"/>
<ellipse cx="497.5" cy="324.1" rx="7" ry="1.3" transform="rotate(-10.9 497.5 324.1)" fill="#E99AA2" opacity="0.8"/>
<ellipse cx="543.3" cy="313.3" rx="7" ry="1.3" transform="rotate(-16.5 543.3 313.3)" fill="#E99AA2" opacity="0.8"/>
<ellipse cx="586.1" cy="294.4" rx="7" ry="1.3" transform="rotate(-31.1 586.1 294.4)" fill="#E99AA2" opacity="0.8"/>
<ellipse cx="624.5" cy="267.6" rx="7" ry="1.3" transform="rotate(-39.1 624.5 267.6)" fill="#E99AA2" opacity="0.8"/>
<path d="M431.9,322.5 L434.1,330.7 M477.7,323.9 L482.2,331.3 M522.9,315.0 L529.0,320.2 M566.4,300.7 L575.2,306.6 M605.7,276.7 L613.7,278.7" stroke="#AE2E36" stroke-width="0.7" fill="none"/>
<path d="M384.0,305.5 C385.0,306.2 387.3,307.8 390.0,309.5 C392.7,311.2 395.8,314.0 400.0,315.7 C404.2,317.4 407.7,318.0 415.0,319.5 C422.3,321.0 434.3,323.7 444.0,324.6 C453.7,325.5 463.3,325.7 473.0,324.8 C482.7,323.9 492.3,321.1 502.0,319.2 C511.7,317.3 521.3,315.8 531.0,313.4 C540.7,311.0 551.8,308.3 560.0,304.8 C568.2,301.3 574.1,295.9 580.0,292.2 C585.9,288.5 591.3,285.4 595.6,282.8 C599.9,280.2 602.5,278.7 605.8,276.6 C609.1,274.5 612.2,272.5 615.2,270.3 C618.2,268.1 620.8,266.2 623.8,263.3 C626.8,260.4 631.0,255.3 633.0,253.1 C635.0,250.9 635.5,250.5 636.0,250.0" stroke="#AE2E36" stroke-width="0.9" fill="none"/>
<path d="M384.0,312.5 C385.0,313.1 387.3,314.7 390.0,316.0 C392.7,317.3 394.7,317.9 400.0,320.2 C405.3,322.5 414.5,328.1 422.0,330.0 C429.5,331.9 435.3,331.0 445.0,331.3 C454.7,331.6 470.8,332.4 480.0,331.8 C489.2,331.2 494.5,329.0 500.0,327.6 C505.5,326.2 508.0,325.0 513.0,323.7 C518.0,322.4 523.5,321.5 530.0,320.0 C536.5,318.5 544.5,316.7 552.0,314.5 C559.5,312.3 569.3,309.0 575.0,306.7 C580.7,304.4 582.2,302.8 586.0,300.5 C589.8,298.2 594.7,295.9 598.0,293.0 C601.3,290.1 602.5,285.9 606.0,283.0 C609.5,280.1 615.0,278.3 619.0,275.8 C623.0,273.3 626.3,271.8 630.0,268.0 C633.7,264.2 638.7,256.1 641.0,253.1 C643.3,250.1 643.5,250.5 644.0,250.0" stroke="#AE2E36" stroke-width="0.9" fill="none"/>
<path d="M384.0,364.4 C391.7,365.1 416.3,367.7 430.0,368.4 C443.7,369.1 454.3,369.2 466.0,368.4 C477.7,367.6 489.3,364.9 500.0,363.5 C510.7,362.1 521.3,361.9 530.0,360.3 C538.7,358.7 544.0,356.2 552.0,353.6 C560.0,351.0 570.5,348.0 578.0,344.6 C585.5,341.2 591.7,336.9 597.0,333.5 C602.3,330.1 605.7,326.4 610.0,324.5 C614.3,322.6 618.5,325.3 623.0,321.8 C627.5,318.3 631.0,308.5 637.0,303.6 C643.0,298.8 653.2,296.3 659.0,292.7 C664.8,289.1 668.5,286.2 672.0,281.8 C675.5,277.4 676.8,270.7 680.0,266.2 C683.2,261.8 688.3,257.7 691.0,255.0 C693.7,252.3 695.2,250.8 696.0,250.0 L705.0,250.0 C704.2,250.8 702.3,252.3 700.0,255.0 C697.7,257.7 693.9,262.8 691.0,266.0 C688.1,269.2 687.1,269.9 682.7,274.5 C678.3,279.1 670.6,288.0 664.5,293.6 C658.4,299.2 652.1,303.6 646.0,308.1 C639.9,312.7 634.0,316.8 628.0,320.9 C622.0,325.0 615.2,329.7 610.0,332.7 C604.8,335.7 602.3,336.4 597.0,339.0 C591.7,341.6 585.5,344.8 578.0,348.0 C570.5,351.2 560.0,355.2 552.0,358.0 C544.0,360.8 538.7,362.7 530.0,364.7 C521.3,366.7 510.7,368.3 500.0,370.0 C489.3,371.7 477.7,374.4 466.0,375.0 C454.3,375.6 443.7,374.6 430.0,373.8 C416.3,372.9 391.7,370.4 384.0,369.7 Z" fill="#F5BEBB"/>
<ellipse cx="409.4" cy="369.3" rx="7" ry="1.3" transform="rotate(5.0 409.4 369.3)" fill="#E99AA2" opacity="0.8"/>
<ellipse cx="460.2" cy="371.6" rx="7" ry="1.3" transform="rotate(0.0 460.2 371.6)" fill="#E99AA2" opacity="0.8"/>
<ellipse cx="510.7" cy="365.2" rx="7" ry="1.3" transform="rotate(-6.1 510.7 365.2)" fill="#E99AA2" opacity="0.8"/>
<ellipse cx="559.9" cy="352.9" rx="7" ry="1.3" transform="rotate(-19.1 559.9 352.9)" fill="#E99AA2" opacity="0.8"/>
<ellipse cx="605.8" cy="331.3" rx="7" ry="1.3" transform="rotate(-34.7 605.8 331.3)" fill="#E99AA2" opacity="0.8"/>
<ellipse cx="646.6" cy="302.7" rx="7" ry="1.3" transform="rotate(-26.4 646.6 302.7)" fill="#E99AA2" opacity="0.8"/>
<ellipse cx="683.4" cy="268.8" rx="7" ry="1.3" transform="rotate(-57.4 683.4 268.8)" fill="#E99AA2" opacity="0.8"/>
<path d="M441.3,368.4 L442.4,374.2 M491.5,364.7 L493.6,370.9 M541.2,356.9 L543.8,360.5 M588.0,338.7 L591.6,341.6 M629.7,313.1 L635.7,315.4 M669.6,283.8 L675.1,282.5" stroke="#AE2E36" stroke-width="0.7" fill="none"/>
<path d="M384.0,364.4 C391.7,365.1 416.3,367.7 430.0,368.4 C443.7,369.1 454.3,369.2 466.0,368.4 C477.7,367.6 489.3,364.9 500.0,363.5 C510.7,362.1 521.3,361.9 530.0,360.3 C538.7,358.7 544.0,356.2 552.0,353.6 C560.0,351.0 570.5,348.0 578.0,344.6 C585.5,341.2 591.7,336.9 597.0,333.5 C602.3,330.1 605.7,326.4 610.0,324.5 C614.3,322.6 618.5,325.3 623.0,321.8 C627.5,318.3 631.0,308.5 637.0,303.6 C643.0,298.8 653.2,296.3 659.0,292.7 C664.8,289.1 668.5,286.2 672.0,281.8 C675.5,277.4 676.8,270.7 680.0,266.2 C683.2,261.8 688.3,257.7 691.0,255.0 C693.7,252.3 695.2,250.8 696.0,250.0" stroke="#AE2E36" stroke-width="0.9" fill="none"/>
<path d="M384.0,369.7 C391.7,370.4 416.3,372.9 430.0,373.8 C443.7,374.6 454.3,375.6 466.0,375.0 C477.7,374.4 489.3,371.7 500.0,370.0 C510.7,368.3 521.3,366.7 530.0,364.7 C538.7,362.7 544.0,360.8 552.0,358.0 C560.0,355.2 570.5,351.2 578.0,348.0 C585.5,344.8 591.7,341.6 597.0,339.0 C602.3,336.4 604.8,335.7 610.0,332.7 C615.2,329.7 622.0,325.0 628.0,320.9 C634.0,316.8 639.9,312.7 646.0,308.1 C652.1,303.6 658.4,299.2 664.5,293.6 C670.6,288.0 678.3,279.1 682.7,274.5 C687.1,269.9 688.1,269.2 691.0,266.0 C693.9,262.8 697.7,257.7 700.0,255.0 C702.3,252.3 704.2,250.8 705.0,250.0" stroke="#AE2E36" stroke-width="0.9" fill="none"/>
<path d="M384.0,379.5 C390.0,382.0 410.7,390.8 420.0,394.3 C429.3,397.8 432.3,397.7 440.0,400.5 C447.7,403.3 458.3,407.3 466.0,411.0 C473.7,414.7 479.3,419.4 486.0,422.7 C492.7,425.9 499.3,427.4 506.0,430.5 C512.7,433.6 519.3,437.5 526.0,441.5 C532.7,445.5 539.3,450.1 546.0,454.7 C552.7,459.3 559.3,464.4 566.0,469.0 C572.7,473.6 579.3,477.5 586.0,482.6 C592.7,487.7 599.3,493.7 606.0,499.5 C612.7,505.3 618.7,510.2 626.0,517.6 C633.3,525.0 641.6,534.4 649.6,543.6 C657.6,552.8 669.4,567.4 674.0,573.0 C678.6,578.6 676.5,576.3 677.0,577.0 L623.0,577.0 C622.5,576.3 623.2,576.3 620.0,573.0 C616.8,569.7 610.7,563.9 604.0,557.0 C597.3,550.1 586.2,537.7 580.0,531.5 C573.8,525.3 571.5,523.8 566.7,519.8 C561.9,515.8 556.2,511.4 551.0,507.4 C545.8,503.4 540.8,499.5 535.6,495.7 C530.4,491.9 524.9,488.0 520.0,484.8 C515.1,481.6 511.7,479.3 506.0,476.5 C500.3,473.7 492.7,470.8 486.0,468.0 C479.3,465.2 471.2,461.8 466.0,459.5 C460.8,457.2 459.3,456.7 455.0,454.3 C450.7,451.9 445.8,447.6 440.0,445.4 C434.2,443.2 426.7,442.8 420.0,440.9 C413.3,439.0 406.0,434.7 400.0,434.2 C394.0,433.7 386.7,437.4 384.0,438.0 Z" fill="#E28684"/>
<path d="M384.0,408.8 C385.8,409.0 391.0,409.4 394.5,410.0 C398.0,410.5 401.5,411.1 405.0,412.1 C408.5,413.1 411.9,414.8 415.4,416.0 C418.9,417.2 422.5,418.3 426.0,419.4 C429.6,420.5 433.2,421.3 436.7,422.4 C440.3,423.5 443.8,424.6 447.2,426.0 C450.7,427.4 453.9,429.1 457.2,430.8 C460.5,432.5 463.7,434.5 466.9,436.2 C470.2,438.0 473.4,439.9 476.8,441.4 C480.1,443.0 483.7,444.2 487.1,445.6 C490.5,447.0 493.9,448.5 497.3,450.0 C500.7,451.6 504.0,453.3 507.3,454.9 C510.6,456.6 513.9,458.2 517.1,460.0 C520.3,461.9 523.5,463.8 526.6,465.8 C529.8,467.8 532.9,469.8 536.0,471.9 C539.0,473.9 542.0,476.2 545.0,478.3 C548.1,480.4 551.1,482.5 554.2,484.7 C557.2,486.8 560.2,488.9 563.2,491.1 C566.2,493.4 569.1,495.6 572.0,497.9 C574.9,500.3 577.8,502.6 580.6,505.0 C583.5,507.4 586.3,509.7 589.1,512.2 C592.0,514.6 594.7,517.1 597.4,519.6 C600.2,522.1 602.9,524.6 605.5,527.3 C608.1,529.9 610.5,532.7 613.0,535.4 C615.6,538.2 618.1,540.9 620.6,543.6 C623.1,546.4 625.6,549.1 628.0,551.9 C630.5,554.7 633.0,557.4 635.5,560.2 C637.9,562.9 640.5,565.6 642.9,568.4 C645.3,571.2 648.8,575.6 650.0,577.0" fill="none" stroke="#F1ADA9" stroke-width="22" filter="url(#b7)"/>
<path d="M384.0,379.5 C390.0,382.0 410.7,390.8 420.0,394.3 C429.3,397.8 432.3,397.7 440.0,400.5 C447.7,403.3 458.3,407.3 466.0,411.0 C473.7,414.7 479.3,419.4 486.0,422.7 C492.7,425.9 499.3,427.4 506.0,430.5 C512.7,433.6 519.3,437.5 526.0,441.5 C532.7,445.5 539.3,450.1 546.0,454.7 C552.7,459.3 559.3,464.4 566.0,469.0 C572.7,473.6 579.3,477.5 586.0,482.6 C592.7,487.7 599.3,493.7 606.0,499.5 C612.7,505.3 618.7,510.2 626.0,517.6 C633.3,525.0 641.6,534.4 649.6,543.6 C657.6,552.8 669.4,567.4 674.0,573.0 C678.6,578.6 676.5,576.3 677.0,577.0" fill="none" stroke="#CD6468" stroke-width="6" filter="url(#b2)" transform="translate(-2,3)"/>
<path d="M384.0,438.0 C386.7,437.4 394.0,433.7 400.0,434.2 C406.0,434.7 413.3,439.0 420.0,440.9 C426.7,442.8 434.2,443.2 440.0,445.4 C445.8,447.6 450.7,451.9 455.0,454.3 C459.3,456.7 460.8,457.2 466.0,459.5 C471.2,461.8 479.3,465.2 486.0,468.0 C492.7,470.8 500.3,473.7 506.0,476.5 C511.7,479.3 515.1,481.6 520.0,484.8 C524.9,488.0 530.4,491.9 535.6,495.7 C540.8,499.5 545.8,503.4 551.0,507.4 C556.2,511.4 561.9,515.8 566.7,519.8 C571.5,523.8 573.8,525.3 580.0,531.5 C586.2,537.7 597.3,550.1 604.0,557.0 C610.7,563.9 616.8,569.7 620.0,573.0 C623.2,576.3 622.5,576.3 623.0,577.0" fill="none" stroke="#CD6468" stroke-width="6" filter="url(#b2)" transform="translate(2,-3)"/>
<path d="M384.0,393.1 C385.4,393.2 389.5,393.2 392.2,393.8 C395.0,394.5 397.8,395.6 400.4,397.1 C403.1,398.6 405.8,400.7 408.4,402.7 C411.0,404.6 413.5,407.0 416.1,408.9 C418.7,410.7 421.2,412.4 423.9,413.6 C426.5,414.8 429.2,415.6 432.0,416.1 C434.8,416.7 437.6,416.8 440.5,416.9 C443.4,417.1 446.4,417.0 449.4,417.2 C452.3,417.4 455.3,417.6 458.1,418.3 C461.0,419.0 463.8,419.9 466.4,421.3 C468.9,422.7 471.3,424.6 473.6,426.5 C475.9,428.5 478.0,431.0 480.2,433.0 C482.4,435.0 484.6,436.9 486.8,438.7 C489.1,440.4 491.4,442.0 493.8,443.4 C496.2,444.8 498.8,446.0 501.5,446.9 C504.2,447.9 507.2,448.6 510.2,449.3 C513.2,450.0 516.5,450.4 519.6,451.1 C522.6,451.9 525.8,452.8 528.6,453.9 C531.4,455.1 534.1,456.5 536.6,458.2 C539.0,459.8 541.1,461.8 543.1,463.8 C545.0,465.8 546.6,468.2 548.3,470.4 C550.0,472.6 551.4,475.0 553.2,477.0 C554.9,479.1 556.7,481.1 558.8,482.8 C561.0,484.6 563.3,486.1 566.0,487.6 C568.6,489.1 571.7,490.2 574.7,491.6 C577.7,492.9 580.9,494.2 584.0,495.7 C587.0,497.1 590.2,498.5 592.9,500.2 C595.6,501.9 598.1,503.7 600.2,505.7 C602.3,507.6 604.0,509.9 605.5,512.1 C606.9,514.3 608.0,516.6 609.2,518.9 C610.3,521.1 611.1,523.5 612.4,525.8 C613.6,528.1 614.7,530.4 616.5,532.5 C618.2,534.7 620.3,536.7 622.7,538.6 C625.2,540.6 628.1,542.5 631.0,544.4 C633.9,546.4 637.2,548.4 640.1,550.4 C643.0,552.5 646.0,554.6 648.4,556.7 C650.9,558.9 653.0,561.1 654.7,563.4 C656.4,565.6 657.6,567.9 658.6,570.1 C659.6,572.4 660.3,575.9 660.6,577.0 M384.0,406.7 C385.3,407.6 389.2,410.3 391.8,411.7 C394.3,413.0 396.9,413.9 399.4,414.9 C402.0,415.8 404.5,416.7 407.0,417.2 C409.6,417.6 412.2,417.7 414.9,417.7 C417.6,417.7 420.5,417.3 423.3,417.1 C426.1,417.0 429.0,416.7 431.8,417.0 C434.6,417.4 437.3,418.1 439.9,419.2 C442.5,420.4 445.0,422.0 447.3,423.8 C449.6,425.7 451.7,428.2 453.8,430.3 C455.9,432.4 457.9,434.8 460.1,436.5 C462.3,438.3 464.5,439.8 467.0,440.8 C469.5,441.9 472.1,442.6 475.0,443.0 C477.8,443.5 481.0,443.3 484.0,443.5 C487.1,443.8 490.3,443.8 493.1,444.5 C496.0,445.1 498.7,446.1 501.2,447.4 C503.6,448.8 505.7,450.6 507.8,452.5 C509.8,454.3 511.5,456.5 513.3,458.5 C515.2,460.5 516.8,462.6 518.7,464.4 C520.7,466.2 522.6,467.9 525.0,469.3 C527.3,470.7 530.0,471.7 532.8,472.8 C535.6,473.8 538.7,474.7 541.7,475.7 C544.7,476.7 547.9,477.6 550.7,478.9 C553.5,480.1 556.2,481.4 558.5,483.1 C560.8,484.7 562.7,486.6 564.4,488.6 C566.1,490.6 567.3,492.8 568.6,495.0 C569.9,497.2 570.8,499.6 572.3,501.6 C573.7,503.7 575.3,505.6 577.3,507.4 C579.3,509.1 581.8,510.6 584.5,512.1 C587.2,513.7 590.4,515.0 593.4,516.5 C596.5,518.0 599.9,519.3 602.7,521.0 C605.5,522.6 608.3,524.4 610.3,526.4 C612.4,528.4 613.9,530.6 615.2,532.8 C616.5,535.0 617.1,537.4 617.9,539.7 C618.7,541.9 619.1,544.2 620.0,546.4 C620.9,548.6 621.8,550.8 623.4,552.8 C625.0,554.8 627.1,556.8 629.5,558.7 C632.0,560.7 635.1,562.5 638.1,564.5 C641.1,566.4 644.6,568.4 647.4,570.5 C650.2,572.6 653.8,575.9 655.0,577.0 M384.0,421.3 C385.2,421.8 389.0,423.5 391.5,424.0 C393.9,424.4 396.4,424.1 398.9,424.1 C401.4,424.2 403.8,424.4 406.4,424.4 C408.9,424.5 411.5,424.3 414.1,424.3 C416.7,424.3 419.4,424.2 422.0,424.4 C424.6,424.7 427.3,425.0 429.9,425.8 C432.4,426.6 434.9,427.9 437.3,429.3 C439.7,430.7 442.0,432.3 444.1,434.1 C446.3,435.9 448.2,438.3 450.3,440.0 C452.4,441.7 454.5,443.4 456.8,444.5 C459.1,445.7 461.6,446.3 464.2,447.0 C466.7,447.6 469.5,447.8 472.3,448.2 C475.1,448.6 478.0,448.7 480.8,449.2 C483.5,449.8 486.2,450.4 488.6,451.5 C491.1,452.7 493.2,454.2 495.3,455.8 C497.3,457.5 499.1,459.5 501.0,461.3 C502.8,463.0 504.6,464.9 506.6,466.4 C508.5,468.0 510.6,469.3 512.9,470.6 C515.2,471.8 517.6,472.9 520.3,473.8 C522.9,474.8 525.9,475.4 528.7,476.4 C531.5,477.3 534.4,478.2 537.1,479.4 C539.7,480.6 542.2,481.9 544.4,483.5 C546.6,485.0 548.4,486.8 550.1,488.7 C551.8,490.5 553.0,492.7 554.4,494.7 C555.8,496.7 557.0,498.8 558.5,500.7 C560.0,502.6 561.6,504.4 563.6,506.1 C565.6,507.7 568.0,509.1 570.6,510.5 C573.1,511.9 576.2,513.0 579.1,514.4 C581.9,515.8 584.9,517.1 587.6,518.7 C590.2,520.2 592.7,521.8 594.7,523.6 C596.7,525.4 598.2,527.4 599.5,529.5 C600.7,531.6 601.4,533.9 602.2,536.1 C603.1,538.2 603.7,540.4 604.7,542.5 C605.8,544.6 606.9,546.5 608.6,548.5 C610.3,550.4 612.4,552.2 614.8,554.0 C617.2,555.8 620.2,557.6 623.0,559.4 C625.8,561.2 629.0,563.0 631.6,564.9 C634.2,566.8 636.8,568.7 638.6,570.7 C640.5,572.7 642.0,576.0 642.7,577.0 M384.0,424.3 C385.2,424.1 389.0,423.2 391.5,422.9 C394.0,422.6 396.5,422.1 399.0,422.4 C401.5,422.7 403.9,423.8 406.3,424.8 C408.7,425.9 411.1,427.3 413.5,428.5 C415.9,429.8 418.2,431.3 420.6,432.5 C423.0,433.8 425.3,434.9 427.7,436.1 C430.0,437.3 432.3,438.4 434.6,439.5 C436.9,440.6 439.3,441.5 441.5,442.8 C443.6,444.1 445.6,445.9 447.6,447.4 C449.7,448.8 451.8,450.2 453.9,451.4 C456.1,452.6 458.3,453.6 460.7,454.5 C463.0,455.4 465.3,456.3 467.8,457.0 C470.2,457.7 472.7,458.2 475.3,458.7 C477.9,459.3 480.5,459.7 483.1,460.3 C485.7,460.8 488.4,461.3 491.0,461.9 C493.7,462.5 496.3,463.2 498.9,463.9 C501.5,464.7 504.1,465.4 506.6,466.3 C509.1,467.3 511.6,468.2 513.9,469.5 C516.3,470.7 518.4,472.1 520.5,473.6 C522.7,475.0 524.7,476.5 526.7,478.1 C528.6,479.8 530.4,481.6 532.1,483.3 C533.9,485.1 535.6,486.9 537.2,488.6 C538.9,490.4 540.5,492.2 542.1,494.0 C543.7,495.8 545.2,497.6 546.8,499.4 C548.4,501.1 550.0,502.9 551.7,504.5 C553.4,506.2 555.0,507.9 556.9,509.5 C558.7,511.1 560.6,512.7 562.6,514.2 C564.6,515.7 566.7,517.1 568.9,518.6 C571.0,520.1 573.2,521.6 575.5,523.1 C577.8,524.6 580.3,526.0 582.7,527.6 C585.1,529.1 587.5,530.7 589.9,532.3 C592.3,533.9 594.6,535.7 596.9,537.4 C599.2,539.2 601.5,540.9 603.7,542.7 C605.9,544.5 608.1,546.3 610.1,548.2 C612.1,550.1 614.0,552.0 615.8,553.9 C617.6,555.8 619.2,557.7 620.8,559.6 C622.3,561.5 623.7,563.5 625.1,565.4 C626.4,567.3 627.7,569.1 628.8,571.0 C629.8,573.0 631.1,576.0 631.6,577.0" fill="none" stroke="#F6C0BC" stroke-width="0.8" opacity="0.7"/>
<path d="M384.0,399.6 C385.3,399.7 389.4,400.2 392.1,400.1 C394.8,400.1 397.5,399.6 400.3,399.5 C403.1,399.4 405.9,399.4 408.7,399.6 C411.5,399.9 414.3,400.3 417.1,401.0 C420.0,401.6 422.9,402.3 425.6,403.4 C428.4,404.4 431.2,405.7 433.9,407.2 C436.6,408.7 439.2,410.6 441.7,412.3 C444.3,414.1 446.7,416.0 449.2,417.7 C451.7,419.5 454.0,421.3 456.5,422.8 C459.0,424.3 461.5,425.7 464.1,426.8 C466.7,427.9 469.4,428.8 472.2,429.6 C475.0,430.4 477.9,431.1 480.9,431.7 C483.9,432.2 487.1,432.3 490.2,432.9 C493.2,433.4 496.3,433.9 499.1,435.0 C502.0,436.0 504.6,437.4 507.0,439.0 C509.5,440.6 511.7,442.6 513.8,444.6 C516.0,446.5 518.0,448.6 520.0,450.6 C522.0,452.7 523.9,454.8 525.9,456.8 C528.0,458.7 530.1,460.5 532.4,462.1 C534.8,463.8 537.3,465.2 540.0,466.5 C542.6,467.9 545.5,469.1 548.5,470.3 C551.4,471.5 554.6,472.6 557.6,473.9 C560.6,475.1 563.7,476.3 566.6,477.7 C569.4,479.1 572.2,480.6 574.6,482.3 C577.0,484.0 579.2,485.9 581.0,488.0 C582.9,490.0 584.3,492.5 585.8,494.7 C587.4,497.0 588.6,499.3 590.1,501.5 C591.6,503.7 593.0,505.8 594.8,507.9 C596.6,510.0 598.4,512.0 600.7,513.8 C602.9,515.7 605.6,517.4 608.3,519.2 C611.0,520.9 614.0,522.7 616.9,524.5 C619.8,526.3 622.8,528.3 625.6,530.2 C628.4,532.2 631.1,534.2 633.5,536.3 C635.9,538.4 638.0,540.6 639.7,542.9 C641.5,545.1 642.7,547.5 643.9,549.9 C645.1,552.2 645.8,554.6 646.7,556.9 C647.6,559.2 648.3,561.5 649.4,563.7 C650.5,566.0 651.7,568.1 653.3,570.3 C654.8,572.5 657.8,575.9 658.8,577.0 M384.0,402.5 C385.3,403.0 389.3,404.3 391.9,405.2 C394.6,406.1 397.2,406.8 399.8,407.9 C402.4,409.0 405.0,410.5 407.5,411.8 C410.1,413.1 412.6,414.6 415.2,415.9 C417.7,417.1 420.3,418.2 422.9,419.2 C425.5,420.1 428.2,420.8 430.8,421.6 C433.5,422.3 436.1,422.9 438.8,423.5 C441.5,424.2 444.2,424.6 446.8,425.3 C449.5,426.1 452.1,427.0 454.7,427.8 C457.3,428.7 459.9,429.6 462.5,430.5 C465.2,431.5 467.8,432.5 470.4,433.6 C473.0,434.6 475.5,435.9 478.2,436.9 C480.8,437.9 483.5,438.8 486.2,439.8 C488.8,440.9 491.4,441.9 493.9,443.2 C496.4,444.5 498.8,445.9 501.2,447.4 C503.5,448.9 505.8,450.5 508.1,452.1 C510.3,453.6 512.5,455.2 514.7,456.8 C516.9,458.5 519.0,460.1 521.2,461.8 C523.3,463.4 525.4,465.2 527.6,466.8 C529.8,468.4 532.0,470.0 534.2,471.6 C536.4,473.1 538.7,474.7 541.0,476.2 C543.4,477.7 545.8,479.2 548.3,480.6 C550.7,482.1 553.3,483.4 555.9,484.8 C558.5,486.2 561.1,487.6 563.8,489.0 C566.4,490.4 569.1,491.8 571.6,493.3 C574.2,494.8 576.6,496.5 579.1,498.2 C581.5,499.8 583.9,501.6 586.1,503.3 C588.4,505.1 590.6,506.9 592.7,508.8 C594.7,510.7 596.6,512.7 598.5,514.6 C600.3,516.6 602.1,518.6 603.8,520.6 C605.5,522.7 607.0,524.8 608.5,526.9 C610.0,529.1 611.3,531.3 612.7,533.5 C614.2,535.6 615.6,537.7 617.2,539.8 C618.7,541.9 620.3,544.0 622.0,546.1 C623.7,548.1 625.4,550.2 627.3,552.2 C629.1,554.3 631.1,556.3 633.2,558.3 C635.3,560.3 637.5,562.3 639.8,564.4 C642.1,566.4 644.5,568.4 646.8,570.5 C649.1,572.6 652.5,575.9 653.6,577.0 M384.0,419.1 C385.3,419.2 389.0,419.9 391.6,419.8 C394.1,419.8 396.6,419.1 399.2,418.9 C401.7,418.8 404.3,419.0 406.9,419.1 C409.4,419.3 412.0,419.5 414.7,419.8 C417.3,420.1 420.0,420.4 422.6,420.9 C425.2,421.5 427.9,422.1 430.5,423.0 C433.1,423.9 435.6,425.1 438.1,426.4 C440.5,427.6 442.9,429.1 445.2,430.7 C447.5,432.3 449.5,434.4 451.7,436.1 C453.9,437.8 456.0,439.5 458.3,440.8 C460.6,442.2 462.9,443.3 465.4,444.2 C467.9,445.2 470.5,445.9 473.2,446.5 C475.9,447.1 478.8,447.3 481.6,447.8 C484.3,448.3 487.2,448.8 489.9,449.5 C492.6,450.3 495.2,451.3 497.6,452.5 C500.1,453.7 502.3,455.2 504.5,456.7 C506.7,458.2 508.7,459.9 510.7,461.6 C512.6,463.3 514.5,465.1 516.4,466.8 C518.4,468.5 520.2,470.3 522.3,471.9 C524.4,473.4 526.7,474.8 529.0,476.1 C531.4,477.4 533.9,478.7 536.4,479.9 C539.0,481.1 541.8,482.2 544.5,483.4 C547.2,484.5 550.0,485.7 552.6,487.0 C555.2,488.3 557.7,489.7 560.0,491.3 C562.3,492.8 564.3,494.5 566.2,496.4 C568.0,498.2 569.5,500.3 571.0,502.3 C572.6,504.3 573.9,506.3 575.4,508.3 C576.8,510.2 578.3,512.1 580.0,514.0 C581.7,515.9 583.4,517.7 585.5,519.4 C587.5,521.2 589.9,522.7 592.4,524.4 C594.8,526.0 597.5,527.6 600.0,529.4 C602.6,531.1 605.2,532.9 607.7,534.7 C610.1,536.6 612.5,538.4 614.6,540.4 C616.6,542.3 618.5,544.4 620.1,546.4 C621.6,548.5 622.8,550.6 624.0,552.7 C625.1,554.8 626.0,556.9 627.0,559.0 C628.1,561.0 629.0,563.0 630.3,565.0 C631.6,567.0 633.0,568.9 634.7,570.9 C636.4,572.9 639.4,576.0 640.4,577.0" fill="none" stroke="#C8666C" stroke-width="0.6" opacity="0.35"/>
<path d="M384.0,376.5 C390.0,378.9 410.7,387.4 420.0,390.7 C429.3,393.9 432.3,393.3 440.0,396.0 C447.7,398.7 458.3,403.5 466.0,407.0 C473.7,410.5 479.3,413.6 486.0,416.9 C492.7,420.2 499.3,423.2 506.0,426.6 C512.7,430.1 519.3,433.7 526.0,437.6 C532.7,441.5 539.3,445.8 546.0,450.2 C552.7,454.6 559.3,459.4 566.0,463.8 C572.7,468.2 579.3,471.9 586.0,476.8 C592.7,481.7 599.2,486.8 606.0,493.0 C612.8,499.2 619.7,506.9 626.5,514.0 C633.3,521.1 640.9,529.0 647.0,535.5 C653.1,542.0 657.8,546.8 663.0,553.0 C668.2,559.2 675.0,569.0 678.0,573.0 C681.0,577.0 680.5,576.3 681.0,577.0 L677.0,577.0 C676.5,576.3 678.6,578.6 674.0,573.0 C669.4,567.4 657.6,552.8 649.6,543.6 C641.6,534.4 633.3,525.0 626.0,517.6 C618.7,510.2 612.7,505.3 606.0,499.5 C599.3,493.7 592.7,487.7 586.0,482.6 C579.3,477.5 572.7,473.6 566.0,469.0 C559.3,464.4 552.7,459.3 546.0,454.7 C539.3,450.1 532.7,445.5 526.0,441.5 C519.3,437.5 512.7,433.6 506.0,430.5 C499.3,427.4 492.7,425.9 486.0,422.7 C479.3,419.4 473.7,414.7 466.0,411.0 C458.3,407.3 447.7,403.3 440.0,400.5 C432.3,397.7 429.3,397.8 420.0,394.3 C410.7,390.8 390.0,382.0 384.0,379.5 Z" fill="#F5BEBB"/>
<ellipse cx="408.0" cy="387.7" rx="7" ry="1.3" transform="rotate(21.5 408.0 387.7)" fill="#E99AA2" opacity="0.8"/>
<ellipse cx="456.7" cy="405.1" rx="7" ry="1.3" transform="rotate(22.9 456.7 405.1)" fill="#E99AA2" opacity="0.8"/>
<ellipse cx="503.3" cy="427.4" rx="7" ry="1.3" transform="rotate(27.4 503.3 427.4)" fill="#E99AA2" opacity="0.8"/>
<ellipse cx="547.8" cy="453.7" rx="7" ry="1.3" transform="rotate(34.2 547.8 453.7)" fill="#E99AA2" opacity="0.8"/>
<ellipse cx="590.3" cy="483.2" rx="7" ry="1.3" transform="rotate(39.0 590.3 483.2)" fill="#E99AA2" opacity="0.8"/>
<ellipse cx="628.5" cy="518.1" rx="7" ry="1.3" transform="rotate(46.4 628.5 518.1)" fill="#E99AA2" opacity="0.8"/>
<ellipse cx="663.1" cy="556.6" rx="7" ry="1.3" transform="rotate(53.1 663.1 556.6)" fill="#E99AA2" opacity="0.8"/>
<path d="M440.1,396.0 L438.8,400.1 M487.5,417.6 L485.0,422.1 M533.5,442.3 L531.0,444.8 M577.0,471.0 L573.2,473.9 M617.0,504.3 L613.2,506.0 M653.0,542.0 L648.9,542.9" stroke="#AE2E36" stroke-width="0.7" fill="none"/>
<path d="M384.0,376.5 C390.0,378.9 410.7,387.4 420.0,390.7 C429.3,393.9 432.3,393.3 440.0,396.0 C447.7,398.7 458.3,403.5 466.0,407.0 C473.7,410.5 479.3,413.6 486.0,416.9 C492.7,420.2 499.3,423.2 506.0,426.6 C512.7,430.1 519.3,433.7 526.0,437.6 C532.7,441.5 539.3,445.8 546.0,450.2 C552.7,454.6 559.3,459.4 566.0,463.8 C572.7,468.2 579.3,471.9 586.0,476.8 C592.7,481.7 599.2,486.8 606.0,493.0 C612.8,499.2 619.7,506.9 626.5,514.0 C633.3,521.1 640.9,529.0 647.0,535.5 C653.1,542.0 657.8,546.8 663.0,553.0 C668.2,559.2 675.0,569.0 678.0,573.0 C681.0,577.0 680.5,576.3 681.0,577.0" stroke="#AE2E36" stroke-width="0.9" fill="none"/>
<path d="M384.0,379.5 C390.0,382.0 410.7,390.8 420.0,394.3 C429.3,397.8 432.3,397.7 440.0,400.5 C447.7,403.3 458.3,407.3 466.0,411.0 C473.7,414.7 479.3,419.4 486.0,422.7 C492.7,425.9 499.3,427.4 506.0,430.5 C512.7,433.6 519.3,437.5 526.0,441.5 C532.7,445.5 539.3,450.1 546.0,454.7 C552.7,459.3 559.3,464.4 566.0,469.0 C572.7,473.6 579.3,477.5 586.0,482.6 C592.7,487.7 599.3,493.7 606.0,499.5 C612.7,505.3 618.7,510.2 626.0,517.6 C633.3,525.0 641.6,534.4 649.6,543.6 C657.6,552.8 669.4,567.4 674.0,573.0 C678.6,578.6 676.5,576.3 677.0,577.0" stroke="#AE2E36" stroke-width="0.9" fill="none"/>
<path d="M384.0,438.0 C386.7,437.4 394.0,433.7 400.0,434.2 C406.0,434.7 413.3,439.0 420.0,440.9 C426.7,442.8 434.2,443.2 440.0,445.4 C445.8,447.6 450.7,451.9 455.0,454.3 C459.3,456.7 460.8,457.2 466.0,459.5 C471.2,461.8 479.3,465.2 486.0,468.0 C492.7,470.8 500.3,473.7 506.0,476.5 C511.7,479.3 515.1,481.6 520.0,484.8 C524.9,488.0 530.4,491.9 535.6,495.7 C540.8,499.5 545.8,503.4 551.0,507.4 C556.2,511.4 561.9,515.8 566.7,519.8 C571.5,523.8 573.8,525.3 580.0,531.5 C586.2,537.7 597.3,550.1 604.0,557.0 C610.7,563.9 616.8,569.7 620.0,573.0 C623.2,576.3 622.5,576.3 623.0,577.0 L617.0,577.0 C616.6,576.3 617.2,575.9 614.8,573.0 C612.4,570.1 608.6,565.9 602.8,559.6 C597.0,553.4 586.0,541.1 580.0,535.5 C574.0,529.9 571.5,529.6 566.7,526.0 C561.9,522.4 556.2,517.8 551.0,513.6 C545.8,509.5 540.8,504.6 535.6,501.1 C530.4,497.6 524.9,496.0 520.0,492.6 C515.1,489.2 511.7,484.3 506.0,481.0 C500.3,477.7 492.7,475.6 486.0,472.6 C479.3,469.6 471.2,465.4 466.0,463.0 C460.8,460.6 459.3,459.9 455.0,457.9 C450.7,455.8 445.8,452.9 440.0,450.7 C434.2,448.5 426.7,446.1 420.0,444.5 C413.3,442.9 406.0,440.9 400.0,441.0 C394.0,441.1 386.7,444.3 384.0,445.0 Z" fill="#F5BEBB"/>
<ellipse cx="406.8" cy="439.4" rx="7" ry="1.3" transform="rotate(18.5 406.8 439.4)" fill="#E99AA2" opacity="0.8"/>
<ellipse cx="451.1" cy="454.1" rx="7" ry="1.3" transform="rotate(30.7 451.1 454.1)" fill="#E99AA2" opacity="0.8"/>
<ellipse cx="493.9" cy="473.6" rx="7" ry="1.3" transform="rotate(23.0 493.9 473.6)" fill="#E99AA2" opacity="0.8"/>
<ellipse cx="534.0" cy="497.6" rx="7" ry="1.3" transform="rotate(37.2 534.0 497.6)" fill="#E99AA2" opacity="0.8"/>
<ellipse cx="571.0" cy="526.5" rx="7" ry="1.3" transform="rotate(41.3 571.0 526.5)" fill="#E99AA2" opacity="0.8"/>
<ellipse cx="604.5" cy="559.4" rx="7" ry="1.3" transform="rotate(45.0 604.5 559.4)" fill="#E99AA2" opacity="0.8"/>
<path d="M435.5,444.4 L434.5,449.0 M478.4,464.8 L476.6,468.1 M521.1,485.6 L517.0,490.1 M559.4,514.0 L554.8,516.6 M594.2,546.6 L590.3,546.3" stroke="#AE2E36" stroke-width="0.7" fill="none"/>
<path d="M384.0,438.0 C386.7,437.4 394.0,433.7 400.0,434.2 C406.0,434.7 413.3,439.0 420.0,440.9 C426.7,442.8 434.2,443.2 440.0,445.4 C445.8,447.6 450.7,451.9 455.0,454.3 C459.3,456.7 460.8,457.2 466.0,459.5 C471.2,461.8 479.3,465.2 486.0,468.0 C492.7,470.8 500.3,473.7 506.0,476.5 C511.7,479.3 515.1,481.6 520.0,484.8 C524.9,488.0 530.4,491.9 535.6,495.7 C540.8,499.5 545.8,503.4 551.0,507.4 C556.2,511.4 561.9,515.8 566.7,519.8 C571.5,523.8 573.8,525.3 580.0,531.5 C586.2,537.7 597.3,550.1 604.0,557.0 C610.7,563.9 616.8,569.7 620.0,573.0 C623.2,576.3 622.5,576.3 623.0,577.0" stroke="#AE2E36" stroke-width="0.9" fill="none"/>
<path d="M384.0,445.0 C386.7,444.3 394.0,441.1 400.0,441.0 C406.0,440.9 413.3,442.9 420.0,444.5 C426.7,446.1 434.2,448.5 440.0,450.7 C445.8,452.9 450.7,455.8 455.0,457.9 C459.3,459.9 460.8,460.6 466.0,463.0 C471.2,465.4 479.3,469.6 486.0,472.6 C492.7,475.6 500.3,477.7 506.0,481.0 C511.7,484.3 515.1,489.2 520.0,492.6 C524.9,496.0 530.4,497.6 535.6,501.1 C540.8,504.6 545.8,509.5 551.0,513.6 C556.2,517.8 561.9,522.4 566.7,526.0 C571.5,529.6 574.0,529.9 580.0,535.5 C586.0,541.1 597.0,553.4 602.8,559.6 C608.6,565.9 612.4,570.1 614.8,573.0 C617.2,575.9 616.6,576.3 617.0,577.0" stroke="#AE2E36" stroke-width="0.9" fill="none"/>
<circle cx="613" cy="408.5" r="67.0" fill="#EDB4DD" stroke="#8E4E80" stroke-width="1.4"/>
<path d="M548.6,424.6 A66.4,66.4 0 0 1 546.7,412.0 L567.6,412.5 A48.5,48.5 0 0 0 568.9,421.7 Z" fill="url(#cellS)" stroke="#9E5A70" stroke-width="0.9"/><circle cx="557.7" cy="417.7" r="2.6" fill="#A266B8"/><path d="M546.7,412.0 A66.4,66.4 0 0 1 547.2,399.3 L568.0,403.3 A48.5,48.5 0 0 0 567.6,412.5 Z" fill="url(#cellS)" stroke="#9E5A70" stroke-width="0.9"/><circle cx="557.1" cy="406.7" r="2.6" fill="#A266B8"/><path d="M547.2,399.3 A66.4,66.4 0 0 1 550.2,386.9 L570.1,394.2 A48.5,48.5 0 0 0 568.0,403.3 Z" fill="url(#cellS)" stroke="#9E5A70" stroke-width="0.9"/><circle cx="558.6" cy="395.8" r="2.6" fill="#A266B8"/><path d="M550.2,386.9 A66.4,66.4 0 0 1 555.5,375.3 L574.0,385.8 A48.5,48.5 0 0 0 570.1,394.2 Z" fill="url(#cellS)" stroke="#9E5A70" stroke-width="0.9"/><circle cx="562.2" cy="385.4" r="2.6" fill="#A266B8"/><path d="M555.5,375.3 A66.4,66.4 0 0 1 562.9,364.9 L579.4,378.2 A48.5,48.5 0 0 0 574.0,385.8 Z" fill="url(#cellS)" stroke="#9E5A70" stroke-width="0.9"/><circle cx="567.7" cy="375.9" r="2.6" fill="#A266B8"/><path d="M562.9,364.9 A66.4,66.4 0 0 1 572.1,356.2 L586.1,371.8 A48.5,48.5 0 0 0 579.4,378.2 Z" fill="url(#cellS)" stroke="#9E5A70" stroke-width="0.9"/><circle cx="575.0" cy="367.6" r="2.6" fill="#A266B8"/><path d="M572.1,356.2 A66.4,66.4 0 0 1 582.9,349.3 L594.0,366.8 A48.5,48.5 0 0 0 586.1,371.8 Z" fill="url(#cellS)" stroke="#9E5A70" stroke-width="0.9"/><circle cx="583.6" cy="360.8" r="2.6" fill="#A266B8"/><path d="M582.9,349.3 A66.4,66.4 0 0 1 594.7,344.7 L602.6,363.4 A48.5,48.5 0 0 0 594.0,366.8 Z" fill="url(#cellS)" stroke="#9E5A70" stroke-width="0.9"/><circle cx="593.4" cy="355.8" r="2.6" fill="#A266B8"/><path d="M594.7,344.7 A66.4,66.4 0 0 1 607.2,342.4 L611.8,361.7 A48.5,48.5 0 0 0 602.6,363.4 Z" fill="url(#cellS)" stroke="#9E5A70" stroke-width="0.9"/><circle cx="604.0" cy="352.8" r="2.6" fill="#A266B8"/><path d="M607.2,342.4 A66.4,66.4 0 0 1 621.6,342.7 L622.3,361.9 A48.5,48.5 0 0 0 611.8,361.7 Z" fill="url(#cellM)" stroke="#9C5A8C" stroke-width="0.9"/><circle cx="615.7" cy="351.8" r="3.2" fill="#9F62D0"/><path d="M621.6,342.7 A66.4,66.4 0 0 1 635.6,346.0 L632.5,364.4 A48.5,48.5 0 0 0 622.3,361.9 Z" fill="url(#cellM)" stroke="#9C5A8C" stroke-width="0.9"/><circle cx="628.1" cy="353.4" r="3.2" fill="#9F62D0"/><path d="M635.6,346.0 A66.4,66.4 0 0 1 648.5,352.4 L641.9,369.0 A48.5,48.5 0 0 0 632.5,364.4 Z" fill="url(#cellM)" stroke="#9C5A8C" stroke-width="0.9"/><circle cx="639.7" cy="357.6" r="3.2" fill="#9F62D0"/><path d="M648.5,352.4 A66.4,66.4 0 0 1 659.7,361.3 L650.1,375.5 A48.5,48.5 0 0 0 641.9,369.0 Z" fill="url(#cellM)" stroke="#9C5A8C" stroke-width="0.9"/><circle cx="650.3" cy="364.3" r="3.2" fill="#9F62D0"/><path d="M659.7,361.3 A66.4,66.4 0 0 1 668.8,372.5 L656.7,383.7 A48.5,48.5 0 0 0 650.1,375.5 Z" fill="url(#cellM)" stroke="#9C5A8C" stroke-width="0.9"/><circle cx="659.1" cy="373.0" r="3.2" fill="#9F62D0"/><path d="M668.8,372.5 A66.4,66.4 0 0 1 675.2,385.3 L661.4,393.1 A48.5,48.5 0 0 0 656.7,383.7 Z" fill="url(#cellM)" stroke="#9C5A8C" stroke-width="0.9"/><circle cx="665.8" cy="383.5" r="3.2" fill="#9F62D0"/><path d="M675.2,385.3 A66.4,66.4 0 0 1 678.8,399.3 L664.0,403.3 A48.5,48.5 0 0 0 661.4,393.1 Z" fill="url(#cellM)" stroke="#9C5A8C" stroke-width="0.9"/><circle cx="670.2" cy="395.1" r="3.2" fill="#9F62D0"/><path d="M678.8,399.3 A66.4,66.4 0 0 1 679.2,413.6 L664.4,413.7 A48.5,48.5 0 0 0 664.0,403.3 Z" fill="url(#cellM)" stroke="#9C5A8C" stroke-width="0.9"/><circle cx="671.9" cy="407.5" r="3.2" fill="#9F62D0"/><path d="M679.2,413.6 A66.4,66.4 0 0 1 676.5,427.8 L662.4,424.1 A48.5,48.5 0 0 0 664.4,413.7 Z" fill="url(#cellM)" stroke="#9C5A8C" stroke-width="0.9"/><circle cx="671.0" cy="419.9" r="3.2" fill="#9F62D0"/><path d="M676.5,427.8 A66.4,66.4 0 0 1 670.9,441.0 L658.3,433.7 A48.5,48.5 0 0 0 662.4,424.1 Z" fill="url(#cellM)" stroke="#9C5A8C" stroke-width="0.9"/><circle cx="667.4" cy="431.8" r="3.2" fill="#9F62D0"/><path d="M670.9,441.0 A66.4,66.4 0 0 1 662.6,452.7 L652.2,442.3 A48.5,48.5 0 0 0 658.3,433.7 Z" fill="url(#cellM)" stroke="#9C5A8C" stroke-width="0.9"/><circle cx="661.3" cy="442.6" r="3.2" fill="#9F62D0"/><path d="M662.6,452.7 A66.4,66.4 0 0 1 651.9,462.3 L644.4,449.3 A48.5,48.5 0 0 0 652.2,442.3 Z" fill="url(#cellM)" stroke="#9C5A8C" stroke-width="0.9"/><circle cx="653.0" cy="451.9" r="3.2" fill="#9F62D0"/><path d="M651.9,462.3 A66.4,66.4 0 0 1 639.4,469.4 L635.3,454.5 A48.5,48.5 0 0 0 644.4,449.3 Z" fill="url(#cellM)" stroke="#9C5A8C" stroke-width="0.9"/><circle cx="642.9" cy="459.2" r="3.2" fill="#9F62D0"/><path d="M639.4,469.4 A66.4,66.4 0 0 1 625.7,473.7 L625.3,457.6 A48.5,48.5 0 0 0 635.3,454.5 Z" fill="url(#cellM)" stroke="#9C5A8C" stroke-width="0.9"/><circle cx="631.5" cy="464.1" r="3.2" fill="#9F62D0"/><path d="M625.7,473.7 A66.4,66.4 0 0 1 611.3,474.9 L614.8,458.5 A48.5,48.5 0 0 0 625.3,457.6 Z" fill="url(#cellM)" stroke="#9C5A8C" stroke-width="0.9"/><circle cx="619.3" cy="466.5" r="3.2" fill="#9F62D0"/><path d="M611.3,474.9 A66.4,66.4 0 0 1 597.1,473.0 L604.4,457.1 A48.5,48.5 0 0 0 614.8,458.5 Z" fill="url(#cellM)" stroke="#9C5A8C" stroke-width="0.9"/><circle cx="606.9" cy="466.2" r="3.2" fill="#9F62D0"/><path d="M597.1,473.0 A66.4,66.4 0 0 1 583.6,468.0 L594.5,453.5 A48.5,48.5 0 0 0 604.4,457.1 Z" fill="url(#cellM)" stroke="#9C5A8C" stroke-width="0.9"/><circle cx="594.8" cy="463.2" r="3.2" fill="#9F62D0"/><path d="M583.6,468.0 A66.4,66.4 0 0 1 571.5,460.3 L585.7,447.8 A48.5,48.5 0 0 0 594.5,453.5 Z" fill="url(#cellM)" stroke="#9C5A8C" stroke-width="0.9"/><circle cx="583.6" cy="457.7" r="3.2" fill="#9F62D0"/><path d="M571.5,460.3 A66.4,66.4 0 0 1 561.3,450.2 L578.2,440.4 A48.5,48.5 0 0 0 585.7,447.8 Z" fill="url(#cellM)" stroke="#9C5A8C" stroke-width="0.9"/><circle cx="573.9" cy="449.9" r="3.2" fill="#9F62D0"/><path d="M561.3,450.2 A66.4,66.4 0 0 1 553.5,438.1 L572.6,431.6 A48.5,48.5 0 0 0 578.2,440.4 Z" fill="url(#cellM)" stroke="#9C5A8C" stroke-width="0.9"/><circle cx="566.1" cy="440.2" r="3.2" fill="#9F62D0"/><path d="M553.5,438.1 A66.4,66.4 0 0 1 548.6,424.6 L568.9,421.7 A48.5,48.5 0 0 0 572.6,431.6 Z" fill="url(#cellM)" stroke="#9C5A8C" stroke-width="0.9"/><circle cx="560.6" cy="429.1" r="3.2" fill="#9F62D0"/>
<circle cx="616" cy="410" r="48.3" fill="url(#lum)" stroke="#8E6E88" stroke-width="1"/>
<path d="M388.3,253 L388.3,573.2 L707.7,573.2 L707.7,253" fill="none" stroke="#FCF6F7" stroke-width="1.3" opacity="0.8"/>
<path d="M580.9,324.7 L578.4,325.2 L576.0,325.7 L573.5,326.3 L571.0,326.8 L568.5,327.4 L566.0,328.0 L563.5,328.6 L560.9,329.3 L558.4,329.9 L555.8,330.6 L553.2,331.3 L550.6,332.0 L548.0,332.7 L545.3,333.5 L542.7,334.3 L540.0,335.1 L537.3,335.9 L534.7,336.7 L531.9,337.5 L529.2,338.4 L526.5,339.3 L523.7,340.2 L521.0,341.1 L518.2,342.0 L519.8,346.4 L522.5,345.3 L525.2,344.2 L527.9,343.2 L530.5,342.2 L533.2,341.2 L535.8,340.2 L538.5,339.2 L541.1,338.3 L543.7,337.4 L546.3,336.4 L548.8,335.6 L551.4,334.7 L554.0,333.8 L556.5,333.0 L559.0,332.2 L561.5,331.4 L564.0,330.6 L566.5,329.9 L569.0,329.1 L571.4,328.4 L573.9,327.7 L576.3,327.0 L578.7,326.3 L581.1,325.7 Z" fill="#6A1818" opacity="0.45" transform="translate(0.6,1.4)" filter="url(#b1)"/>
<path d="M580.9,324.7 L578.4,325.2 L576.0,325.7 L573.5,326.3 L571.0,326.8 L568.5,327.4 L566.0,328.0 L563.5,328.6 L560.9,329.3 L558.4,329.9 L555.8,330.6 L553.2,331.3 L550.6,332.0 L548.0,332.7 L545.3,333.5 L542.7,334.3 L540.0,335.1 L537.3,335.9 L534.7,336.7 L531.9,337.5 L529.2,338.4 L526.5,339.3 L523.7,340.2 L521.0,341.1 L518.2,342.0 L519.8,346.4 L522.5,345.3 L525.2,344.2 L527.9,343.2 L530.5,342.2 L533.2,341.2 L535.8,340.2 L538.5,339.2 L541.1,338.3 L543.7,337.4 L546.3,336.4 L548.8,335.6 L551.4,334.7 L554.0,333.8 L556.5,333.0 L559.0,332.2 L561.5,331.4 L564.0,330.6 L566.5,329.9 L569.0,329.1 L571.4,328.4 L573.9,327.7 L576.3,327.0 L578.7,326.3 L581.1,325.7 Z" fill="#F20F1B"/>
<path d="M506.5,347.7 L519.5,335.8 L522.2,352.6 Z" fill="#6A1818" opacity="0.4" transform="translate(0.6,1.2)" filter="url(#b1)"/>
<path d="M506.5,347.7 L519.5,335.8 L522.2,352.6 Z" fill="#F20F1B"/>
<path d="M520.3,463.1 L522.9,464.1 L525.4,465.2 L527.9,466.3 L530.4,467.5 L532.8,468.7 L535.2,470.0 L537.5,471.3 L539.8,472.6 L542.1,474.0 L544.3,475.5 L546.5,477.0 L548.7,478.5 L550.8,480.0 L552.9,481.6 L554.9,483.3 L556.9,485.0 L558.9,486.7 L560.8,488.5 L562.7,490.3 L564.6,492.2 L566.4,494.1 L568.2,496.1 L570.0,498.0 L571.7,500.1 L575.3,496.9 L573.4,494.9 L571.5,493.0 L569.5,491.1 L567.5,489.2 L565.5,487.4 L563.4,485.6 L561.3,483.9 L559.2,482.2 L557.0,480.6 L554.8,479.1 L552.6,477.5 L550.3,476.1 L548.0,474.7 L545.7,473.3 L543.3,471.9 L540.9,470.7 L538.5,469.4 L536.1,468.2 L533.6,467.1 L531.1,466.0 L528.5,465.0 L525.9,464.0 L523.3,463.0 L520.7,462.1 Z" fill="#6A1818" opacity="0.45" transform="translate(-0.8,1.2)" filter="url(#b1)"/>
<path d="M520.3,463.1 L522.9,464.1 L525.4,465.2 L527.9,466.3 L530.4,467.5 L532.8,468.7 L535.2,470.0 L537.5,471.3 L539.8,472.6 L542.1,474.0 L544.3,475.5 L546.5,477.0 L548.7,478.5 L550.8,480.0 L552.9,481.6 L554.9,483.3 L556.9,485.0 L558.9,486.7 L560.8,488.5 L562.7,490.3 L564.6,492.2 L566.4,494.1 L568.2,496.1 L570.0,498.0 L571.7,500.1 L575.3,496.9 L573.4,494.9 L571.5,493.0 L569.5,491.1 L567.5,489.2 L565.5,487.4 L563.4,485.6 L561.3,483.9 L559.2,482.2 L557.0,480.6 L554.8,479.1 L552.6,477.5 L550.3,476.1 L548.0,474.7 L545.7,473.3 L543.3,471.9 L540.9,470.7 L538.5,469.4 L536.1,468.2 L533.6,467.1 L531.1,466.0 L528.5,465.0 L525.9,464.0 L523.3,463.0 L520.7,462.1 Z" fill="#F20F1B"/>
<path d="M583.8,508 L566.3,505.8 L577.6,492.2 Z" fill="#6A1818" opacity="0.4" transform="translate(-0.6,1.2)" filter="url(#b1)"/>
<path d="M583.8,508 L566.3,505.8 L577.6,492.2 Z" fill="#F20F1B"/>
</g>
<rect x="386" y="251.5" width="324" height="323.5" fill="none" stroke="#000" stroke-width="3"/>
<text x="139.2" y="242.1" font-size="18.2" font-weight="normal" font-style="normal" fill="#141414" stroke="#141414" stroke-width="0.3" textLength="95.6" lengthAdjust="spacingAndGlyphs" >Glomerulus</text>
<path d="M187,247.5 L187,296" stroke="#3A3A3A" stroke-width="1.9"/>
<circle cx="187" cy="296" r="3.6" fill="#000"/>
<text x="195.2" y="398.9" font-size="17.8" font-weight="normal" font-style="normal" fill="#141414" stroke="#141414" stroke-width="0.3" textLength="37.2" lengthAdjust="spacingAndGlyphs" >DCT</text>
<path d="M204.3,348 L212.3,381.5" stroke="#3A3A3A" stroke-width="1.9"/>
<circle cx="203" cy="343" r="3.4" fill="#000"/>
<text x="413.3" y="213.3" font-size="20" font-weight="normal" font-style="normal" fill="#141414" stroke="#141414" stroke-width="0.3" textLength="125" lengthAdjust="spacingAndGlyphs" >Granular cells</text>
<text x="372" y="232.8" font-size="20" font-weight="normal" font-style="normal" fill="#141414" stroke="#141414" stroke-width="0.3" textLength="209" lengthAdjust="spacingAndGlyphs" >(Juxtaglomerular cells)</text>
<path d="M436.5,314.3 L469,239 L500.8,377.6" fill="none" stroke="#3A3A3A" stroke-width="1.9"/>
<circle cx="436.5" cy="314.3" r="3.4" fill="#000"/><circle cx="500.8" cy="377.6" r="3.4" fill="#000"/>
<text x="729.8" y="287.7" font-size="19.8" font-weight="normal" font-style="normal" fill="#141414" stroke="#141414" stroke-width="0.3" textLength="73.5" lengthAdjust="spacingAndGlyphs" >Afferent</text>
<text x="729" y="307.3" font-size="19.8" font-weight="normal" font-style="normal" fill="#141414" stroke="#141414" stroke-width="0.3" textLength="79.3" lengthAdjust="spacingAndGlyphs" >arteriole</text>
<path d="M640,280.5 L726,280.5" stroke="#3A3A3A" stroke-width="1.9"/>
<circle cx="640" cy="280.5" r="3.4" fill="#000"/>
<text x="728.3" y="352.9" font-size="21.5" font-weight="normal" font-style="normal" fill="#141414" stroke="#141414" stroke-width="0.3" textLength="41.5" lengthAdjust="spacingAndGlyphs" >DCT</text>
<path d="M679,344 L726,344" stroke="#3A3A3A" stroke-width="1.9"/>
<circle cx="679" cy="344" r="3.4" fill="#000"/>
<text x="727.8" y="408.6" font-size="19.8" font-weight="normal" font-style="normal" fill="#141414" stroke="#141414" stroke-width="0.3" textLength="127" lengthAdjust="spacingAndGlyphs" >Macula densa</text>
<text x="729" y="429.1" font-size="19.8" font-weight="normal" font-style="normal" fill="#141414" stroke="#141414" stroke-width="0.3" textLength="41.5" lengthAdjust="spacingAndGlyphs" >cells</text>
<path d="M607,401.5 L726,401.5" stroke="#3A3A3A" stroke-width="1.9"/>
<path d="M610,364 L625.6,375.7 L585.7,432.1 L569.2,421.4" fill="none" stroke="#222" stroke-width="1.8"/>
<text x="726.3" y="536.8" font-size="19.8" font-weight="normal" font-style="normal" fill="#141414" stroke="#141414" stroke-width="0.3" textLength="73.8" lengthAdjust="spacingAndGlyphs" >Efferent</text>
<text x="726.8" y="555.4" font-size="19.8" font-weight="normal" font-style="normal" fill="#141414" stroke="#141414" stroke-width="0.3" textLength="79" lengthAdjust="spacingAndGlyphs" >arteriole</text>
<path d="M603,529.2 L726,529.2" stroke="#3A3A3A" stroke-width="1.9"/>
<circle cx="603" cy="529.2" r="3.4" fill="#000"/>
<text x="398.2" y="538.3" font-size="17" font-weight="bold" font-style="normal" fill="#141414" textLength="144" lengthAdjust="spacingAndGlyphs" >Juxtaglomerular</text>
<text x="400" y="556.7" font-size="17" font-weight="bold" font-style="normal" fill="#141414" textLength="141.5" lengthAdjust="spacingAndGlyphs" >apparatus (JGA)</text>
<text x="386.6" y="599" font-size="17.4" fill="#141414" stroke="#141414" stroke-width="0.25" textLength="212" lengthAdjust="spacingAndGlyphs">DCT - <tspan font-style="italic">Distal convoluted tubule</tspan></text>
</svg>
</body></html>
